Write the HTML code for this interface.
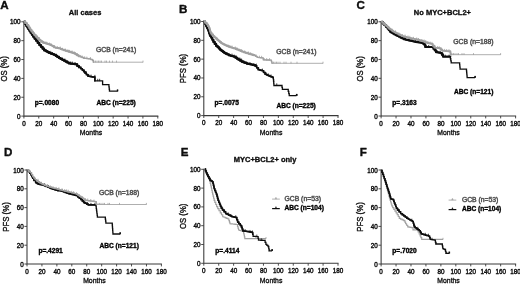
<!DOCTYPE html><html><head><meta charset="utf-8"><title>Figure</title><style>html,body{margin:0;padding:0;background:#fff}svg{display:block}text{font-family:"Liberation Sans", sans-serif;stroke-linejoin:round}</style></head><body>
<svg width="520" height="284" viewBox="0 0 520 284">
<defs><filter id="soft" x="0" y="0" width="520" height="284" filterUnits="userSpaceOnUse"><feGaussianBlur stdDeviation="0.38"/></filter></defs>
<rect width="520" height="284" fill="#fff"/>
<g filter="url(#soft)">
<g id="pA"><text x="0.2" y="9.0" font-size="11.6" font-weight="bold" fill="#0a0a0a" stroke="#0a0a0a" stroke-width="0.35">A</text>
<text x="85.1" y="14.8" font-size="7.5" font-weight="bold" fill="#0a0a0a" stroke="#0a0a0a" stroke-width="0.3" text-anchor="middle">All cases</text>
<path d="M23.90 21.30V116.10H158.30" fill="none" stroke="#383838" stroke-width="1.05"/>
<text transform="translate(20.60 118.60) scale(0.9 1)" font-size="7" fill="#0e0e0e" stroke="#0e0e0e" stroke-width="0.42" text-anchor="end">0</text>
<text transform="translate(20.60 99.74) scale(0.9 1)" font-size="7" fill="#0e0e0e" stroke="#0e0e0e" stroke-width="0.42" text-anchor="end">20</text>
<text transform="translate(20.60 80.88) scale(0.9 1)" font-size="7" fill="#0e0e0e" stroke="#0e0e0e" stroke-width="0.42" text-anchor="end">40</text>
<text transform="translate(20.60 62.02) scale(0.9 1)" font-size="7" fill="#0e0e0e" stroke="#0e0e0e" stroke-width="0.42" text-anchor="end">60</text>
<text transform="translate(20.60 43.16) scale(0.9 1)" font-size="7" fill="#0e0e0e" stroke="#0e0e0e" stroke-width="0.42" text-anchor="end">80</text>
<text transform="translate(20.60 24.30) scale(0.9 1)" font-size="7" fill="#0e0e0e" stroke="#0e0e0e" stroke-width="0.42" text-anchor="end">100</text>
<text transform="translate(23.90 125.65) scale(0.9 1)" font-size="7" fill="#0e0e0e" stroke="#0e0e0e" stroke-width="0.42" text-anchor="middle">0</text>
<text transform="translate(38.78 125.65) scale(0.9 1)" font-size="7" fill="#0e0e0e" stroke="#0e0e0e" stroke-width="0.42" text-anchor="middle">20</text>
<text transform="translate(53.66 125.65) scale(0.9 1)" font-size="7" fill="#0e0e0e" stroke="#0e0e0e" stroke-width="0.42" text-anchor="middle">40</text>
<text transform="translate(68.53 125.65) scale(0.9 1)" font-size="7" fill="#0e0e0e" stroke="#0e0e0e" stroke-width="0.42" text-anchor="middle">60</text>
<text transform="translate(83.41 125.65) scale(0.9 1)" font-size="7" fill="#0e0e0e" stroke="#0e0e0e" stroke-width="0.42" text-anchor="middle">80</text>
<text transform="translate(98.29 125.65) scale(0.9 1)" font-size="7" fill="#0e0e0e" stroke="#0e0e0e" stroke-width="0.42" text-anchor="middle">100</text>
<text transform="translate(113.17 125.65) scale(0.9 1)" font-size="7" fill="#0e0e0e" stroke="#0e0e0e" stroke-width="0.42" text-anchor="middle">120</text>
<text transform="translate(128.04 125.65) scale(0.9 1)" font-size="7" fill="#0e0e0e" stroke="#0e0e0e" stroke-width="0.42" text-anchor="middle">140</text>
<text transform="translate(142.92 125.65) scale(0.9 1)" font-size="7" fill="#0e0e0e" stroke="#0e0e0e" stroke-width="0.42" text-anchor="middle">160</text>
<text transform="translate(157.80 125.65) scale(0.9 1)" font-size="7" fill="#0e0e0e" stroke="#0e0e0e" stroke-width="0.42" text-anchor="middle">180</text>
<path d="M21.30 116.10H23.90M21.30 97.24H23.90M21.30 78.38H23.90M21.30 59.52H23.90M21.30 40.66H23.90M21.30 21.80H23.90M23.90 116.10V118.50M38.78 116.10V118.50M53.66 116.10V118.50M68.53 116.10V118.50M83.41 116.10V118.50M98.29 116.10V118.50M113.17 116.10V118.50M128.04 116.10V118.50M142.92 116.10V118.50M157.80 116.10V118.50" fill="none" stroke="#383838" stroke-width="0.9"/>
<text transform="translate(91.05 135.35) scale(0.87 1)" font-size="7.9" fill="#0e0e0e" stroke="#0e0e0e" stroke-width="0.36" text-anchor="middle">Months</text>
<text transform="translate(7.20 68.95) rotate(-90) scale(0.92 1)" font-size="8.4" fill="#0e0e0e" stroke="#0e0e0e" stroke-width="0.36" text-anchor="middle">OS (%)</text>
<path d="M24.40 21.60 L25.02 21.60 L25.02 23.75 L26.27 23.75 L26.27 25.90 L26.90 25.90 L27.40 25.90 L27.40 27.53 L28.40 27.53 L28.40 29.17 L29.40 29.17 L29.40 30.80 L29.90 30.80 L30.55 30.80 L30.55 32.77 L31.85 32.77 L31.85 34.73 L33.15 34.73 L33.15 36.70 L33.80 36.70 L34.55 36.70 L34.55 38.70 L36.05 38.70 L36.05 40.70 L36.80 40.70 L37.65 40.70 L37.65 42.90 L39.35 42.90 L39.35 45.10 L40.20 45.10 L40.98 45.10 L40.98 46.87 L42.55 46.87 L42.55 48.63 L44.12 48.63 L44.12 50.40 L44.90 50.40 L45.73 50.40 L45.73 51.27 L47.40 51.27 L47.40 52.13 L49.07 52.13 L49.07 53.00 L49.90 53.00 L50.72 53.00 L50.72 53.60 L52.35 53.60 L52.35 54.20 L53.98 54.20 L53.98 54.80 L54.80 54.80 L55.62 54.80 L55.62 55.87 L57.25 55.87 L57.25 56.93 L58.88 56.93 L58.88 58.00 L59.70 58.00 L60.53 58.00 L60.53 58.90 L62.20 58.90 L62.20 59.80 L63.87 59.80 L63.87 60.70 L64.70 60.70 L65.52 60.70 L65.52 61.60 L67.15 61.60 L67.15 62.50 L68.78 62.50 L68.78 63.40 L69.60 63.40 L70.29 63.40 L70.29 63.58 L71.67 63.58 L71.67 63.76 L73.05 63.76 L73.05 63.94 L74.43 63.94 L74.43 64.12 L75.81 64.12 L75.81 64.30 L76.50 64.30 L77.25 64.30 L77.25 66.00 L78.00 66.00 L78.92 66.00 L78.92 67.35 L80.78 67.35 L80.78 68.70 L81.70 68.70 L82.35 68.70 L82.35 70.17 L83.65 70.17 L83.65 71.63 L84.95 71.63 L84.95 73.10 L85.60 73.10 L86.38 73.10 L86.38 74.65 L87.92 74.65 L87.92 76.20 L88.70 76.20 L89.47 76.20 L89.47 76.47 L91.00 76.47 L91.00 76.73 L92.53 76.73 L92.53 77.00 L93.30 77.00 L94.90 77.00 L94.90 80.90 L102.60 80.90 L102.60 84.70 L108.80 84.70 L108.93 84.70 L108.93 86.87 L109.20 86.87 L109.20 89.03 L109.47 89.03 L109.47 91.20 L109.60 91.20 L117.40 91.20" fill="none" stroke="#101010" stroke-width="1.30" stroke-linejoin="miter"/>
<path d="M24.40 21.60 L25.02 21.60 L25.02 23.75 L26.27 23.75 L26.27 25.90 L26.90 25.90 L27.40 25.90 L27.40 27.53 L28.40 27.53 L28.40 29.17 L29.40 29.17 L29.40 30.80 L29.90 30.80 L30.55 30.80 L30.55 32.77 L31.85 32.77 L31.85 34.73 L33.15 34.73 L33.15 36.70 L33.80 36.70 L34.55 36.70 L34.55 38.70 L36.05 38.70 L36.05 40.70 L36.80 40.70 L37.65 40.70 L37.65 42.90 L39.35 42.90 L39.35 45.10 L40.20 45.10 L40.98 45.10 L40.98 46.87 L42.55 46.87 L42.55 48.63 L44.12 48.63 L44.12 50.40 L44.90 50.40 L45.73 50.40 L45.73 51.27 L47.40 51.27 L47.40 52.13 L49.07 52.13 L49.07 53.00 L49.90 53.00 L50.72 53.00 L50.72 53.60 L52.35 53.60 L52.35 54.20 L53.98 54.20 L53.98 54.80 L54.80 54.80 L55.62 54.80 L55.62 55.87 L57.25 55.87 L57.25 56.93 L58.88 56.93 L58.88 58.00 L59.70 58.00 L60.53 58.00 L60.53 58.90 L62.20 58.90 L62.20 59.80 L63.87 59.80 L63.87 60.70 L64.70 60.70 L65.52 60.70 L65.52 61.60 L67.15 61.60 L67.15 62.50 L68.78 62.50 L68.78 63.40 L69.60 63.40 L70.29 63.40 L70.29 63.58 L71.67 63.58 L71.67 63.76 L73.05 63.76 L73.05 63.94 L74.43 63.94 L74.43 64.12 L75.81 64.12 L75.81 64.30 L76.50 64.30 L77.25 64.30 L77.25 66.00 L78.00 66.00 L78.92 66.00 L78.92 67.35 L80.78 67.35 L80.78 68.70 L81.70 68.70 L82.35 68.70 L82.35 70.17 L83.65 70.17 L83.65 71.63 L84.95 71.63 L84.95 73.10 L85.60 73.10 L86.38 73.10 L86.38 74.65 L87.92 74.65 L87.92 76.20 L88.70 76.20 L89.47 76.20 L89.47 76.47 L91.00 76.47 L91.00 76.73 L92.53 76.73 L92.53 77.00 L93.30 77.00 L94.90 77.00 L94.90 80.90" fill="none" stroke="#101010" stroke-width="1.60" stroke-linejoin="round" stroke-linecap="round"/>
<path d="M24.40 21.60 L25.02 21.60 L25.02 23.75 L26.27 23.75 L26.27 25.90 L26.90 25.90 L27.40 25.90 L27.40 27.53 L28.40 27.53 L28.40 29.17 L29.40 29.17 L29.40 30.80 L29.90 30.80 L30.55 30.80 L30.55 32.77 L31.85 32.77 L31.85 34.73 L33.15 34.73 L33.15 36.70 L33.80 36.70 L34.55 36.70 L34.55 38.70 L36.05 38.70 L36.05 40.70 L36.80 40.70 L37.65 40.70 L37.65 42.90 L39.35 42.90 L39.35 45.10 L40.20 45.10 L40.98 45.10 L40.98 46.87 L42.55 46.87 L42.55 48.63 L44.12 48.63 L44.12 50.40 L44.90 50.40 L45.73 50.40 L45.73 51.27 L47.40 51.27 L47.40 52.13 L49.07 52.13 L49.07 53.00 L49.90 53.00 L50.72 53.00 L50.72 53.60 L52.35 53.60 L52.35 54.20 L53.98 54.20 L53.98 54.80 L54.80 54.80 L55.62 54.80 L55.62 55.87 L57.25 55.87 L57.25 56.93 L58.88 56.93 L58.88 58.00 L59.70 58.00 L60.53 58.00 L60.53 58.90 L62.20 58.90 L62.20 59.80 L63.87 59.80 L63.87 60.70 L64.70 60.70 L65.52 60.70 L65.52 61.60 L67.15 61.60 L67.15 62.50 L68.78 62.50 L68.78 63.40 L69.60 63.40 L70.29 63.40 L70.29 63.58 L71.67 63.58 L71.67 63.76 L73.05 63.76 L73.05 63.94 L74.43 63.94 L74.43 64.12 L75.81 64.12 L75.81 64.30 L76.50 64.30 L77.25 64.30 L77.25 66.00 L78.00 66.00 L78.92 66.00 L78.92 67.35" fill="none" stroke="#101010" stroke-width="2.20" stroke-linejoin="round" stroke-linecap="round"/>
<path d="M117.50 91.50V89.60M46.00 51.57V49.17M47.84 52.43V50.03M50.71 53.30V50.90M52.54 54.50V52.10M56.42 56.17V53.77M59.24 58.30V55.90M62.40 60.10V57.70M64.87 61.00V58.60M67.71 62.80V60.40M70.69 63.88V61.48M72.41 64.06V61.66M75.11 64.42V62.02M77.52 66.30V63.90M80.83 69.00V66.60M84.50 71.93V69.53M86.22 73.40V71.00M88.71 76.50V74.10M91.05 77.03V74.63M94.87 77.30V74.90M97.74 81.20V78.80M99.65 81.20V78.80" fill="none" stroke="#101010" stroke-width="0.8"/>
<rect x="116.80" y="89.50" width="1.5" height="1.9" fill="#101010"/>
<path d="M24.40 21.40 L25.27 21.40 L25.27 23.15 L27.02 23.15 L27.02 24.90 L27.90 24.90 L28.38 24.90 L28.38 26.53 L29.35 26.53 L29.35 28.17 L30.32 28.17 L30.32 29.80 L30.80 29.80 L31.47 29.80 L31.47 31.47 L32.80 31.47 L32.80 33.13 L34.13 33.13 L34.13 34.80 L34.80 34.80 L35.62 34.80 L35.62 36.43 L37.25 36.43 L37.25 38.07 L38.88 38.07 L38.88 39.70 L39.70 39.70 L40.37 39.70 L40.37 40.70 L41.70 40.70 L41.70 41.70 L43.03 41.70 L43.03 42.70 L43.70 42.70 L44.44 42.70 L44.44 43.12 L45.91 43.12 L45.91 43.55 L47.39 43.55 L47.39 43.98 L48.86 43.98 L48.86 44.40 L49.60 44.40 L50.25 44.40 L50.25 45.00 L51.55 45.00 L51.55 45.60 L52.85 45.60 L52.85 46.20 L53.50 46.20 L54.15 46.20 L54.15 47.40 L54.80 47.40 L55.62 47.40 L55.62 47.73 L57.25 47.73 L57.25 48.07 L58.88 48.07 L58.88 48.40 L59.70 48.40 L60.53 48.40 L60.53 49.03 L62.20 49.03 L62.20 49.67 L63.87 49.67 L63.87 50.30 L64.70 50.30 L65.52 50.30 L65.52 50.80 L67.15 50.80 L67.15 51.30 L68.78 51.30 L68.78 51.80 L69.60 51.80 L70.42 51.80 L70.42 52.30 L72.05 52.30 L72.05 52.80 L73.68 52.80 L73.68 53.30 L74.50 53.30 L75.32 53.30 L75.32 54.27 L76.95 54.27 L76.95 55.23 L78.58 55.23 L78.58 56.20 L79.40 56.20 L80.23 56.20 L80.23 56.87 L81.90 56.87 L81.90 57.53 L83.57 57.53 L83.57 58.20 L84.40 58.20 L85.10 58.20 L85.10 58.38 L86.50 58.38 L86.50 58.55 L87.90 58.55 L87.90 58.73 L89.30 58.73 L89.30 58.90 L90.00 58.90 L90.83 58.90 L90.83 59.55 L92.47 59.55 L92.47 60.20 L93.30 60.20 L93.30 62.20 L143.00 62.20" fill="none" stroke="#a0a0a0" stroke-width="0.85" stroke-linejoin="miter"/>
<path d="M24.40 21.40 L25.27 21.40 L25.27 23.15 L27.02 23.15 L27.02 24.90 L27.90 24.90 L28.38 24.90 L28.38 26.53 L29.35 26.53 L29.35 28.17 L30.32 28.17 L30.32 29.80 L30.80 29.80 L31.47 29.80 L31.47 31.47 L32.80 31.47 L32.80 33.13 L34.13 33.13 L34.13 34.80 L34.80 34.80 L35.62 34.80 L35.62 36.43 L37.25 36.43 L37.25 38.07 L38.88 38.07 L38.88 39.70 L39.70 39.70 L40.37 39.70 L40.37 40.70 L41.70 40.70 L41.70 41.70 L43.03 41.70 L43.03 42.70 L43.70 42.70 L44.44 42.70 L44.44 43.12 L45.91 43.12 L45.91 43.55 L47.39 43.55 L47.39 43.98 L48.86 43.98 L48.86 44.40 L49.60 44.40 L50.25 44.40 L50.25 45.00 L51.55 45.00 L51.55 45.60 L52.85 45.60 L52.85 46.20 L53.50 46.20 L54.15 46.20 L54.15 47.40 L54.80 47.40 L55.62 47.40 L55.62 47.73 L57.25 47.73 L57.25 48.07 L58.88 48.07 L58.88 48.40 L59.70 48.40 L60.53 48.40 L60.53 49.03 L62.20 49.03 L62.20 49.67 L63.87 49.67 L63.87 50.30 L64.70 50.30 L65.52 50.30 L65.52 50.80 L67.15 50.80 L67.15 51.30 L68.78 51.30 L68.78 51.80 L69.60 51.80 L70.42 51.80 L70.42 52.30 L72.05 52.30 L72.05 52.80 L73.68 52.80 L73.68 53.30 L74.50 53.30 L75.32 53.30 L75.32 54.27 L76.95 54.27 L76.95 55.23 L78.58 55.23 L78.58 56.20 L79.40 56.20 L80.23 56.20 L80.23 56.87 L81.90 56.87 L81.90 57.53 L83.57 57.53 L83.57 58.20 L84.40 58.20 L85.10 58.20 L85.10 58.38 L86.50 58.38 L86.50 58.55 L87.90 58.55 L87.90 58.73 L89.30 58.73 L89.30 58.90 L90.00 58.90 L90.83 58.90 L90.83 59.55 L92.47 59.55 L92.47 60.20 L93.30 60.20 L93.30 62.20" fill="none" stroke="#a0a0a0" stroke-width="1.40" stroke-linejoin="round" stroke-linecap="round"/>
<path d="M24.40 21.40 L25.27 21.40 L25.27 23.15 L27.02 23.15 L27.02 24.90 L27.90 24.90 L28.38 24.90 L28.38 26.53 L29.35 26.53 L29.35 28.17 L30.32 28.17 L30.32 29.80 L30.80 29.80 L31.47 29.80 L31.47 31.47 L32.80 31.47 L32.80 33.13 L34.13 33.13 L34.13 34.80 L34.80 34.80 L35.62 34.80 L35.62 36.43 L37.25 36.43 L37.25 38.07 L38.88 38.07 L38.88 39.70 L39.70 39.70 L40.37 39.70 L40.37 40.70 L41.70 40.70 L41.70 41.70 L43.03 41.70 L43.03 42.70 L43.70 42.70 L44.44 42.70 L44.44 43.12 L45.91 43.12 L45.91 43.55 L47.39 43.55 L47.39 43.98 L48.86 43.98 L48.86 44.40 L49.60 44.40 L50.25 44.40 L50.25 45.00 L51.55 45.00 L51.55 45.60 L52.85 45.60 L52.85 46.20 L53.50 46.20 L54.15 46.20 L54.15 47.40 L54.80 47.40 L55.62 47.40 L55.62 47.73 L57.25 47.73 L57.25 48.07 L58.88 48.07 L58.88 48.40 L59.70 48.40 L60.53 48.40 L60.53 49.03 L62.20 49.03 L62.20 49.67 L63.87 49.67 L63.87 50.30 L64.70 50.30 L65.52 50.30 L65.52 50.80 L67.15 50.80 L67.15 51.30 L68.78 51.30 L68.78 51.80 L69.60 51.80 L70.42 51.80 L70.42 52.30 L72.05 52.30 L72.05 52.80 L73.68 52.80 L73.68 53.30 L74.50 53.30 L75.32 53.30 L75.32 54.27 L76.95 54.27 L76.95 55.23 L78.58 55.23 L78.58 56.20 L79.40 56.20" fill="none" stroke="#a0a0a0" stroke-width="1.90" stroke-linejoin="round" stroke-linecap="round"/>
<path d="M94.00 62.50V60.60M95.50 62.50V60.60M97.00 62.50V60.60M98.50 62.50V60.60M100.00 62.50V60.60M101.50 62.50V60.60M105.00 62.50V60.60M106.50 62.50V60.60M109.50 62.50V60.60M112.50 62.50V60.60M116.50 62.50V60.60M143.00 62.50V60.60M45.00 43.42V41.23M46.71 43.85V41.65M49.37 44.70V42.50M51.07 45.30V43.10M54.68 47.70V45.50M57.29 48.37V46.17M60.23 48.70V46.50M62.52 49.97V47.77M65.16 50.60V48.40M67.92 51.60V49.40M69.52 52.10V49.90M72.03 52.60V50.40M74.27 53.60V51.40M77.34 55.53V53.33M80.75 57.17V54.97M82.35 57.83V55.63M84.66 58.50V56.30M86.83 58.85V56.65M90.38 59.20V57.00" fill="none" stroke="#a0a0a0" stroke-width="0.8"/>
<text x="96.00" y="52.20" font-size="6.8" fill="#565656" stroke="#565656" stroke-width="0.5">GCB (n=241)</text>
<text x="96.40" y="105.40" font-size="6.6" font-weight="bold" fill="#050505" stroke="#050505" stroke-width="0.36">ABC (n=225)</text>
<text x="34.70" y="104.90" font-size="6.6" font-weight="bold" fill="#050505" stroke="#050505" stroke-width="0.36">p=.0080</text></g>
<g id="pB"><text x="179.0" y="12.9" font-size="11.6" font-weight="bold" fill="#0a0a0a" stroke="#0a0a0a" stroke-width="0.35">B</text>
<path d="M203.80 21.00V115.60H338.50" fill="none" stroke="#383838" stroke-width="1.05"/>
<text transform="translate(200.50 118.10) scale(0.9 1)" font-size="7" fill="#0e0e0e" stroke="#0e0e0e" stroke-width="0.42" text-anchor="end">0</text>
<text transform="translate(200.50 99.28) scale(0.9 1)" font-size="7" fill="#0e0e0e" stroke="#0e0e0e" stroke-width="0.42" text-anchor="end">20</text>
<text transform="translate(200.50 80.46) scale(0.9 1)" font-size="7" fill="#0e0e0e" stroke="#0e0e0e" stroke-width="0.42" text-anchor="end">40</text>
<text transform="translate(200.50 61.64) scale(0.9 1)" font-size="7" fill="#0e0e0e" stroke="#0e0e0e" stroke-width="0.42" text-anchor="end">60</text>
<text transform="translate(200.50 42.82) scale(0.9 1)" font-size="7" fill="#0e0e0e" stroke="#0e0e0e" stroke-width="0.42" text-anchor="end">80</text>
<text transform="translate(200.50 24.00) scale(0.9 1)" font-size="7" fill="#0e0e0e" stroke="#0e0e0e" stroke-width="0.42" text-anchor="end">100</text>
<text transform="translate(203.80 125.15) scale(0.9 1)" font-size="7" fill="#0e0e0e" stroke="#0e0e0e" stroke-width="0.42" text-anchor="middle">0</text>
<text transform="translate(218.71 125.15) scale(0.9 1)" font-size="7" fill="#0e0e0e" stroke="#0e0e0e" stroke-width="0.42" text-anchor="middle">20</text>
<text transform="translate(233.62 125.15) scale(0.9 1)" font-size="7" fill="#0e0e0e" stroke="#0e0e0e" stroke-width="0.42" text-anchor="middle">40</text>
<text transform="translate(248.53 125.15) scale(0.9 1)" font-size="7" fill="#0e0e0e" stroke="#0e0e0e" stroke-width="0.42" text-anchor="middle">60</text>
<text transform="translate(263.44 125.15) scale(0.9 1)" font-size="7" fill="#0e0e0e" stroke="#0e0e0e" stroke-width="0.42" text-anchor="middle">80</text>
<text transform="translate(278.36 125.15) scale(0.9 1)" font-size="7" fill="#0e0e0e" stroke="#0e0e0e" stroke-width="0.42" text-anchor="middle">100</text>
<text transform="translate(293.27 125.15) scale(0.9 1)" font-size="7" fill="#0e0e0e" stroke="#0e0e0e" stroke-width="0.42" text-anchor="middle">120</text>
<text transform="translate(308.18 125.15) scale(0.9 1)" font-size="7" fill="#0e0e0e" stroke="#0e0e0e" stroke-width="0.42" text-anchor="middle">140</text>
<text transform="translate(323.09 125.15) scale(0.9 1)" font-size="7" fill="#0e0e0e" stroke="#0e0e0e" stroke-width="0.42" text-anchor="middle">160</text>
<text transform="translate(338.00 125.15) scale(0.9 1)" font-size="7" fill="#0e0e0e" stroke="#0e0e0e" stroke-width="0.42" text-anchor="middle">180</text>
<path d="M201.20 115.60H203.80M201.20 96.78H203.80M201.20 77.96H203.80M201.20 59.14H203.80M201.20 40.32H203.80M201.20 21.50H203.80M203.80 115.60V118.00M218.71 115.60V118.00M233.62 115.60V118.00M248.53 115.60V118.00M263.44 115.60V118.00M278.36 115.60V118.00M293.27 115.60V118.00M308.18 115.60V118.00M323.09 115.60V118.00M338.00 115.60V118.00" fill="none" stroke="#383838" stroke-width="0.9"/>
<text transform="translate(271.10 134.85) scale(0.87 1)" font-size="7.9" fill="#0e0e0e" stroke="#0e0e0e" stroke-width="0.36" text-anchor="middle">Months</text>
<text transform="translate(186.10 68.55) rotate(-90) scale(0.92 1)" font-size="8.5" fill="#0e0e0e" stroke="#0e0e0e" stroke-width="0.36" text-anchor="middle">PFS (%)</text>
<path d="M204.40 21.20 L204.73 21.20 L204.73 22.77 L205.40 22.77 L205.40 24.33 L206.07 24.33 L206.07 25.90 L206.40 25.90 L206.90 25.90 L206.90 27.85 L207.90 27.85 L207.90 29.80 L208.40 29.80 L208.65 29.80 L208.65 31.47 L209.15 31.47 L209.15 33.13 L209.65 33.13 L209.65 34.80 L209.90 34.80 L210.38 34.80 L210.38 36.25 L211.33 36.25 L211.33 37.70 L211.80 37.70 L212.33 37.70 L212.33 39.80 L213.38 39.80 L213.38 41.90 L213.90 41.90 L214.65 41.90 L214.65 43.90 L216.15 43.90 L216.15 45.90 L216.90 45.90 L217.55 45.90 L217.55 47.20 L218.85 47.20 L218.85 48.50 L220.15 48.50 L220.15 49.80 L220.80 49.80 L221.47 49.80 L221.47 50.80 L222.80 50.80 L222.80 51.80 L224.13 51.80 L224.13 52.80 L224.80 52.80 L225.62 52.80 L225.62 53.63 L227.25 53.63 L227.25 54.47 L228.88 54.47 L228.88 55.30 L229.70 55.30 L230.53 55.30 L230.53 55.77 L232.20 55.77 L232.20 56.23 L233.87 56.23 L233.87 56.70 L234.70 56.70 L235.42 56.70 L235.42 57.70 L236.88 57.70 L236.88 58.70 L237.60 58.70 L238.42 58.70 L238.42 59.70 L240.05 59.70 L240.05 60.70 L241.68 60.70 L241.68 61.70 L242.50 61.70 L243.33 61.70 L243.33 62.33 L245.00 62.33 L245.00 62.97 L246.67 62.97 L246.67 63.60 L247.50 63.60 L248.19 63.60 L248.19 63.90 L249.57 63.90 L249.57 64.20 L250.95 64.20 L250.95 64.50 L252.33 64.50 L252.33 64.80 L253.71 64.80 L253.71 65.10 L254.40 65.10 L255.15 65.10 L255.15 65.80 L255.90 65.80 L256.65 65.80 L256.65 67.75 L258.15 67.75 L258.15 69.70 L258.90 69.70 L259.55 69.70 L259.55 70.03 L260.85 70.03 L260.85 70.37 L262.15 70.37 L262.15 70.70 L262.80 70.70 L263.55 70.70 L263.55 72.45 L265.05 72.45 L265.05 74.20 L265.80 74.20 L266.45 74.20 L266.45 74.83 L267.75 74.83 L267.75 75.47 L269.05 75.47 L269.05 76.10 L269.70 76.10 L270.45 76.10 L270.45 76.60 L271.95 76.60 L271.95 77.10 L272.70 77.10 L273.00 77.10 L273.00 77.80 L273.30 77.80 L273.39 77.80 L273.39 79.72 L273.56 79.72 L273.56 81.65 L273.74 81.65 L273.74 83.58 L273.91 83.58 L273.91 85.50 L274.00 85.50 L281.80 85.50 L282.00 85.50 L282.00 87.45 L282.40 87.45 L282.40 89.40 L282.60 89.40 L288.00 89.40 L288.25 89.40 L288.25 91.47 L288.75 91.47 L288.75 93.53 L289.25 93.53 L289.25 95.60 L289.50 95.60 L296.50 95.60" fill="none" stroke="#101010" stroke-width="1.30" stroke-linejoin="miter"/>
<path d="M204.40 21.20 L204.73 21.20 L204.73 22.77 L205.40 22.77 L205.40 24.33 L206.07 24.33 L206.07 25.90 L206.40 25.90 L206.90 25.90 L206.90 27.85 L207.90 27.85 L207.90 29.80 L208.40 29.80 L208.65 29.80 L208.65 31.47 L209.15 31.47 L209.15 33.13 L209.65 33.13 L209.65 34.80 L209.90 34.80 L210.38 34.80 L210.38 36.25 L211.33 36.25 L211.33 37.70 L211.80 37.70 L212.33 37.70 L212.33 39.80 L213.38 39.80 L213.38 41.90 L213.90 41.90 L214.65 41.90 L214.65 43.90 L216.15 43.90 L216.15 45.90 L216.90 45.90 L217.55 45.90 L217.55 47.20 L218.85 47.20 L218.85 48.50 L220.15 48.50 L220.15 49.80 L220.80 49.80 L221.47 49.80 L221.47 50.80 L222.80 50.80 L222.80 51.80 L224.13 51.80 L224.13 52.80 L224.80 52.80 L225.62 52.80 L225.62 53.63 L227.25 53.63 L227.25 54.47 L228.88 54.47 L228.88 55.30 L229.70 55.30 L230.53 55.30 L230.53 55.77 L232.20 55.77 L232.20 56.23 L233.87 56.23 L233.87 56.70 L234.70 56.70 L235.42 56.70 L235.42 57.70 L236.88 57.70 L236.88 58.70 L237.60 58.70 L238.42 58.70 L238.42 59.70 L240.05 59.70 L240.05 60.70 L241.68 60.70 L241.68 61.70 L242.50 61.70 L243.33 61.70 L243.33 62.33 L245.00 62.33 L245.00 62.97 L246.67 62.97 L246.67 63.60 L247.50 63.60 L248.19 63.60 L248.19 63.90 L249.57 63.90 L249.57 64.20 L250.95 64.20 L250.95 64.50 L252.33 64.50 L252.33 64.80 L253.71 64.80 L253.71 65.10 L254.40 65.10 L255.15 65.10 L255.15 65.80 L255.90 65.80 L256.65 65.80 L256.65 67.75 L258.15 67.75 L258.15 69.70 L258.90 69.70 L259.55 69.70 L259.55 70.03 L260.85 70.03 L260.85 70.37 L262.15 70.37 L262.15 70.70 L262.80 70.70 L263.55 70.70 L263.55 72.45 L265.05 72.45 L265.05 74.20 L265.80 74.20 L266.45 74.20 L266.45 74.83 L267.75 74.83 L267.75 75.47 L269.05 75.47 L269.05 76.10 L269.70 76.10 L270.45 76.10 L270.45 76.60 L271.95 76.60 L271.95 77.10 L272.70 77.10 L273.00 77.10 L273.00 77.80 L273.30 77.80" fill="none" stroke="#101010" stroke-width="1.60" stroke-linejoin="round" stroke-linecap="round"/>
<path d="M204.40 21.20 L204.73 21.20 L204.73 22.77 L205.40 22.77 L205.40 24.33 L206.07 24.33 L206.07 25.90 L206.40 25.90 L206.90 25.90 L206.90 27.85 L207.90 27.85 L207.90 29.80 L208.40 29.80 L208.65 29.80 L208.65 31.47 L209.15 31.47 L209.15 33.13 L209.65 33.13 L209.65 34.80 L209.90 34.80 L210.38 34.80 L210.38 36.25 L211.33 36.25 L211.33 37.70 L211.80 37.70 L212.33 37.70 L212.33 39.80 L213.38 39.80 L213.38 41.90 L213.90 41.90 L214.65 41.90 L214.65 43.90 L216.15 43.90 L216.15 45.90 L216.90 45.90 L217.55 45.90 L217.55 47.20 L218.85 47.20 L218.85 48.50 L220.15 48.50 L220.15 49.80 L220.80 49.80 L221.47 49.80 L221.47 50.80 L222.80 50.80 L222.80 51.80 L224.13 51.80 L224.13 52.80 L224.80 52.80 L225.62 52.80 L225.62 53.63 L227.25 53.63 L227.25 54.47 L228.88 54.47 L228.88 55.30 L229.70 55.30 L230.53 55.30 L230.53 55.77 L232.20 55.77 L232.20 56.23 L233.87 56.23 L233.87 56.70 L234.70 56.70 L235.42 56.70 L235.42 57.70 L236.88 57.70 L236.88 58.70 L237.60 58.70 L238.42 58.70 L238.42 59.70 L240.05 59.70 L240.05 60.70 L241.68 60.70 L241.68 61.70 L242.50 61.70 L243.33 61.70 L243.33 62.33 L245.00 62.33 L245.00 62.97 L246.67 62.97 L246.67 63.60 L247.50 63.60 L248.19 63.60 L248.19 63.90 L249.57 63.90 L249.57 64.20 L250.95 64.20 L250.95 64.50 L252.33 64.50 L252.33 64.80 L253.71 64.80 L253.71 65.10 L254.40 65.10 L255.15 65.10 L255.15 65.80 L255.90 65.80" fill="none" stroke="#101010" stroke-width="2.20" stroke-linejoin="round" stroke-linecap="round"/>
<path d="M297.00 95.90V94.00M232.00 56.07V53.67M234.11 57.00V54.60M236.29 58.00V55.60M239.83 60.00V57.60M241.57 61.00V58.60M243.76 62.63V60.23M246.68 63.90V61.50M249.96 64.50V62.10M253.82 65.40V63.00M256.38 66.10V63.70M258.80 70.00V67.60M262.35 71.00V68.60M265.96 74.50V72.10M268.18 75.77V73.37M271.02 76.90V74.50M273.67 81.95V79.55M276.75 85.80V83.40" fill="none" stroke="#101010" stroke-width="0.8"/>
<rect x="295.90" y="93.90" width="1.5" height="1.9" fill="#101010"/>
<path d="M204.40 21.00 L205.15 21.00 L205.15 22.70 L206.65 22.70 L206.65 24.40 L207.40 24.40 L207.90 24.40 L207.90 26.15 L208.90 26.15 L208.90 27.90 L209.40 27.90 L209.63 27.90 L209.63 29.53 L210.10 29.53 L210.10 31.17 L210.57 31.17 L210.57 32.80 L210.80 32.80 L211.55 32.80 L211.55 34.50 L213.05 34.50 L213.05 36.20 L213.80 36.20 L214.47 36.20 L214.47 37.37 L215.80 37.37 L215.80 38.53 L217.13 38.53 L217.13 39.70 L217.80 39.70 L218.45 39.70 L218.45 40.83 L219.75 40.83 L219.75 41.97 L221.05 41.97 L221.05 43.10 L221.70 43.10 L222.35 43.10 L222.35 43.77 L223.65 43.77 L223.65 44.43 L224.95 44.43 L224.95 45.10 L225.60 45.10 L226.28 45.10 L226.28 45.70 L227.65 45.70 L227.65 46.30 L229.02 46.30 L229.02 46.90 L229.70 46.90 L230.53 46.90 L230.53 47.40 L232.20 47.40 L232.20 47.90 L233.87 47.90 L233.87 48.40 L234.70 48.40 L235.52 48.40 L235.52 49.03 L237.15 49.03 L237.15 49.67 L238.78 49.67 L238.78 50.30 L239.60 50.30 L240.42 50.30 L240.42 50.97 L242.05 50.97 L242.05 51.63 L243.68 51.63 L243.68 52.30 L244.50 52.30 L245.32 52.30 L245.32 52.80 L246.95 52.80 L246.95 53.30 L248.58 53.30 L248.58 53.80 L249.40 53.80 L250.09 53.80 L250.09 54.20 L251.46 54.20 L251.46 54.60 L252.84 54.60 L252.84 55.00 L254.21 55.00 L254.21 55.40 L254.90 55.40 L255.65 55.40 L255.65 56.40 L257.15 56.40 L257.15 57.40 L257.90 57.40 L258.72 57.40 L258.72 57.57 L260.35 57.57 L260.35 57.73 L261.98 57.73 L261.98 57.90 L262.80 57.90 L263.30 57.90 L263.30 59.90 L263.80 59.90 L264.54 59.90 L264.54 59.94 L266.02 59.94 L266.02 59.98 L267.50 59.98 L267.50 60.02 L268.98 60.02 L268.98 60.06 L270.46 60.06 L270.46 60.10 L271.20 60.10 L271.45 60.10 L271.45 61.70 L271.95 61.70 L271.95 63.30 L272.20 63.30 L323.00 63.30" fill="none" stroke="#a0a0a0" stroke-width="0.85" stroke-linejoin="miter"/>
<path d="M204.40 21.00 L205.15 21.00 L205.15 22.70 L206.65 22.70 L206.65 24.40 L207.40 24.40 L207.90 24.40 L207.90 26.15 L208.90 26.15 L208.90 27.90 L209.40 27.90 L209.63 27.90 L209.63 29.53 L210.10 29.53 L210.10 31.17 L210.57 31.17 L210.57 32.80 L210.80 32.80 L211.55 32.80 L211.55 34.50 L213.05 34.50 L213.05 36.20 L213.80 36.20 L214.47 36.20 L214.47 37.37 L215.80 37.37 L215.80 38.53 L217.13 38.53 L217.13 39.70 L217.80 39.70 L218.45 39.70 L218.45 40.83 L219.75 40.83 L219.75 41.97 L221.05 41.97 L221.05 43.10 L221.70 43.10 L222.35 43.10 L222.35 43.77 L223.65 43.77 L223.65 44.43 L224.95 44.43 L224.95 45.10 L225.60 45.10 L226.28 45.10 L226.28 45.70 L227.65 45.70 L227.65 46.30 L229.02 46.30 L229.02 46.90 L229.70 46.90 L230.53 46.90 L230.53 47.40 L232.20 47.40 L232.20 47.90 L233.87 47.90 L233.87 48.40 L234.70 48.40 L235.52 48.40 L235.52 49.03 L237.15 49.03 L237.15 49.67 L238.78 49.67 L238.78 50.30 L239.60 50.30 L240.42 50.30 L240.42 50.97 L242.05 50.97 L242.05 51.63 L243.68 51.63 L243.68 52.30 L244.50 52.30 L245.32 52.30 L245.32 52.80 L246.95 52.80 L246.95 53.30 L248.58 53.30 L248.58 53.80 L249.40 53.80 L250.09 53.80 L250.09 54.20 L251.46 54.20 L251.46 54.60 L252.84 54.60 L252.84 55.00 L254.21 55.00 L254.21 55.40 L254.90 55.40 L255.65 55.40 L255.65 56.40 L257.15 56.40 L257.15 57.40 L257.90 57.40 L258.72 57.40 L258.72 57.57 L260.35 57.57 L260.35 57.73 L261.98 57.73 L261.98 57.90 L262.80 57.90 L263.30 57.90 L263.30 59.90 L263.80 59.90 L264.54 59.90 L264.54 59.94 L266.02 59.94 L266.02 59.98 L267.50 59.98 L267.50 60.02 L268.98 60.02 L268.98 60.06 L270.46 60.06 L270.46 60.10 L271.20 60.10 L271.45 60.10 L271.45 61.70 L271.95 61.70 L271.95 63.30 L272.20 63.30" fill="none" stroke="#a0a0a0" stroke-width="1.35" stroke-linejoin="round" stroke-linecap="round"/>
<path d="M204.40 21.00 L205.15 21.00 L205.15 22.70 L206.65 22.70 L206.65 24.40 L207.40 24.40 L207.90 24.40 L207.90 26.15 L208.90 26.15 L208.90 27.90 L209.40 27.90 L209.63 27.90 L209.63 29.53 L210.10 29.53 L210.10 31.17 L210.57 31.17 L210.57 32.80 L210.80 32.80 L211.55 32.80 L211.55 34.50 L213.05 34.50 L213.05 36.20 L213.80 36.20 L214.47 36.20 L214.47 37.37 L215.80 37.37 L215.80 38.53 L217.13 38.53 L217.13 39.70 L217.80 39.70 L218.45 39.70 L218.45 40.83 L219.75 40.83 L219.75 41.97 L221.05 41.97 L221.05 43.10 L221.70 43.10 L222.35 43.10 L222.35 43.77 L223.65 43.77 L223.65 44.43 L224.95 44.43 L224.95 45.10 L225.60 45.10 L226.28 45.10 L226.28 45.70 L227.65 45.70 L227.65 46.30 L229.02 46.30 L229.02 46.90 L229.70 46.90 L230.53 46.90 L230.53 47.40 L232.20 47.40 L232.20 47.90 L233.87 47.90 L233.87 48.40 L234.70 48.40 L235.52 48.40 L235.52 49.03 L237.15 49.03 L237.15 49.67 L238.78 49.67 L238.78 50.30 L239.60 50.30 L240.42 50.30 L240.42 50.97 L242.05 50.97 L242.05 51.63 L243.68 51.63 L243.68 52.30 L244.50 52.30 L245.32 52.30 L245.32 52.80 L246.95 52.80 L246.95 53.30 L248.58 53.30 L248.58 53.80 L249.40 53.80 L250.09 53.80 L250.09 54.20 L251.46 54.20 L251.46 54.60 L252.84 54.60 L252.84 55.00 L254.21 55.00 L254.21 55.40 L254.90 55.40" fill="none" stroke="#a0a0a0" stroke-width="1.90" stroke-linejoin="round" stroke-linecap="round"/>
<path d="M273.50 63.60V61.70M275.00 63.60V61.70M276.50 63.60V61.70M278.00 63.60V61.70M280.00 63.60V61.70M284.00 63.60V61.70M286.00 63.60V61.70M291.00 63.60V61.70M297.00 63.60V61.70M323.00 63.60V61.70M228.00 46.60V44.40M229.96 47.20V45.00M231.98 47.70V45.50M235.27 48.70V46.50M236.89 49.33V47.13M238.92 50.60V48.40M241.63 51.27V49.07M244.68 52.60V50.40M248.26 53.60V51.40M250.64 54.50V52.30M252.89 55.30V53.10M256.18 56.70V54.50M259.53 57.87V55.67M261.60 58.03V55.83M264.23 60.20V58.00M266.69 60.28V58.08M269.55 60.36V58.16" fill="none" stroke="#a0a0a0" stroke-width="0.8"/>
<text x="276.20" y="54.00" font-size="6.8" fill="#565656" stroke="#565656" stroke-width="0.5">GCB (n=241)</text>
<text x="276.40" y="108.20" font-size="6.6" font-weight="bold" fill="#050505" stroke="#050505" stroke-width="0.36">ABC (n=225)</text>
<text x="214.50" y="104.90" font-size="6.6" font-weight="bold" fill="#050505" stroke="#050505" stroke-width="0.36">p=.0075</text></g>
<g id="pC"><text x="356.6" y="9.1" font-size="11.6" font-weight="bold" fill="#0a0a0a" stroke="#0a0a0a" stroke-width="0.35">C</text>
<text x="442.4" y="14.8" font-size="7.5" font-weight="bold" fill="#0a0a0a" stroke="#0a0a0a" stroke-width="0.3" text-anchor="middle">No MYC+BCL2+</text>
<path d="M381.10 21.30V116.00H516.10" fill="none" stroke="#383838" stroke-width="1.05"/>
<text transform="translate(377.80 118.50) scale(0.9 1)" font-size="7" fill="#0e0e0e" stroke="#0e0e0e" stroke-width="0.42" text-anchor="end">0</text>
<text transform="translate(377.80 99.66) scale(0.9 1)" font-size="7" fill="#0e0e0e" stroke="#0e0e0e" stroke-width="0.42" text-anchor="end">20</text>
<text transform="translate(377.80 80.82) scale(0.9 1)" font-size="7" fill="#0e0e0e" stroke="#0e0e0e" stroke-width="0.42" text-anchor="end">40</text>
<text transform="translate(377.80 61.98) scale(0.9 1)" font-size="7" fill="#0e0e0e" stroke="#0e0e0e" stroke-width="0.42" text-anchor="end">60</text>
<text transform="translate(377.80 43.14) scale(0.9 1)" font-size="7" fill="#0e0e0e" stroke="#0e0e0e" stroke-width="0.42" text-anchor="end">80</text>
<text transform="translate(377.80 24.30) scale(0.9 1)" font-size="7" fill="#0e0e0e" stroke="#0e0e0e" stroke-width="0.42" text-anchor="end">100</text>
<text transform="translate(381.10 125.55) scale(0.9 1)" font-size="7" fill="#0e0e0e" stroke="#0e0e0e" stroke-width="0.42" text-anchor="middle">0</text>
<text transform="translate(396.04 125.55) scale(0.9 1)" font-size="7" fill="#0e0e0e" stroke="#0e0e0e" stroke-width="0.42" text-anchor="middle">20</text>
<text transform="translate(410.99 125.55) scale(0.9 1)" font-size="7" fill="#0e0e0e" stroke="#0e0e0e" stroke-width="0.42" text-anchor="middle">40</text>
<text transform="translate(425.93 125.55) scale(0.9 1)" font-size="7" fill="#0e0e0e" stroke="#0e0e0e" stroke-width="0.42" text-anchor="middle">60</text>
<text transform="translate(440.88 125.55) scale(0.9 1)" font-size="7" fill="#0e0e0e" stroke="#0e0e0e" stroke-width="0.42" text-anchor="middle">80</text>
<text transform="translate(455.82 125.55) scale(0.9 1)" font-size="7" fill="#0e0e0e" stroke="#0e0e0e" stroke-width="0.42" text-anchor="middle">100</text>
<text transform="translate(470.77 125.55) scale(0.9 1)" font-size="7" fill="#0e0e0e" stroke="#0e0e0e" stroke-width="0.42" text-anchor="middle">120</text>
<text transform="translate(485.71 125.55) scale(0.9 1)" font-size="7" fill="#0e0e0e" stroke="#0e0e0e" stroke-width="0.42" text-anchor="middle">140</text>
<text transform="translate(500.66 125.55) scale(0.9 1)" font-size="7" fill="#0e0e0e" stroke="#0e0e0e" stroke-width="0.42" text-anchor="middle">160</text>
<text transform="translate(515.60 125.55) scale(0.9 1)" font-size="7" fill="#0e0e0e" stroke="#0e0e0e" stroke-width="0.42" text-anchor="middle">180</text>
<path d="M378.50 116.00H381.10M378.50 97.16H381.10M378.50 78.32H381.10M378.50 59.48H381.10M378.50 40.64H381.10M378.50 21.80H381.10M381.10 116.00V118.40M396.04 116.00V118.40M410.99 116.00V118.40M425.93 116.00V118.40M440.88 116.00V118.40M455.82 116.00V118.40M470.77 116.00V118.40M485.71 116.00V118.40M500.66 116.00V118.40M515.60 116.00V118.40" fill="none" stroke="#383838" stroke-width="0.9"/>
<text transform="translate(448.55 135.25) scale(0.87 1)" font-size="7.9" fill="#0e0e0e" stroke="#0e0e0e" stroke-width="0.36" text-anchor="middle">Months</text>
<text transform="translate(363.00 68.90) rotate(-90) scale(0.92 1)" font-size="8.4" fill="#0e0e0e" stroke="#0e0e0e" stroke-width="0.36" text-anchor="middle">OS (%)</text>
<path d="M381.80 21.80 L382.65 21.80 L382.65 23.50 L384.35 23.50 L384.35 25.20 L386.05 25.20 L386.05 26.90 L386.90 26.90 L387.55 26.90 L387.55 28.53 L388.85 28.53 L388.85 30.17 L390.15 30.17 L390.15 31.80 L390.80 31.80 L391.47 31.80 L391.47 32.63 L392.80 32.63 L392.80 33.47 L394.13 33.47 L394.13 34.30 L394.80 34.30 L395.62 34.30 L395.62 35.10 L397.25 35.10 L397.25 35.90 L398.88 35.90 L398.88 36.70 L399.70 36.70 L400.52 36.70 L400.52 37.53 L402.15 37.53 L402.15 38.37 L403.78 38.37 L403.78 39.20 L404.60 39.20 L405.34 39.20 L405.34 39.58 L406.81 39.58 L406.81 39.95 L408.29 39.95 L408.29 40.33 L409.76 40.33 L409.76 40.70 L410.50 40.70 L411.19 40.70 L411.19 40.98 L412.57 40.98 L412.57 41.26 L413.95 41.26 L413.95 41.54 L415.33 41.54 L415.33 41.82 L416.71 41.82 L416.71 42.10 L417.40 42.10 L418.23 42.10 L418.23 42.33 L419.90 42.33 L419.90 42.57 L421.57 42.57 L421.57 42.80 L422.40 42.80 L423.50 42.80 L423.50 44.30 L424.60 44.30 L425.20 44.30 L425.20 47.00 L425.80 47.00 L432.80 47.00 L433.45 47.00 L433.45 48.73 L434.75 48.73 L434.75 50.47 L436.05 50.47 L436.05 52.20 L436.70 52.20 L437.47 52.20 L437.47 52.47 L439.00 52.47 L439.00 52.73 L440.53 52.73 L440.53 53.00 L441.30 53.00 L441.88 53.00 L441.88 54.85 L443.03 54.85 L443.03 56.70 L443.60 56.70 L450.20 56.70 L450.40 56.70 L450.40 58.77 L450.80 58.77 L450.80 60.83 L451.20 60.83 L451.20 62.90 L451.40 62.90 L459.50 62.90 L459.62 62.90 L459.62 64.97 L459.85 64.97 L459.85 67.03 L460.08 67.03 L460.08 69.10 L460.20 69.10 L466.40 69.10 L466.48 69.10 L466.48 70.80 L466.64 70.80 L466.64 72.50 L466.80 72.50 L466.80 74.20 L466.96 74.20 L466.96 75.90 L467.12 75.90 L467.12 77.60 L467.20 77.60 L475.00 77.60" fill="none" stroke="#101010" stroke-width="1.30" stroke-linejoin="miter"/>
<path d="M381.80 21.80 L382.65 21.80 L382.65 23.50 L384.35 23.50 L384.35 25.20 L386.05 25.20 L386.05 26.90 L386.90 26.90 L387.55 26.90 L387.55 28.53 L388.85 28.53 L388.85 30.17 L390.15 30.17 L390.15 31.80 L390.80 31.80 L391.47 31.80 L391.47 32.63 L392.80 32.63 L392.80 33.47 L394.13 33.47 L394.13 34.30 L394.80 34.30 L395.62 34.30 L395.62 35.10 L397.25 35.10 L397.25 35.90 L398.88 35.90 L398.88 36.70 L399.70 36.70 L400.52 36.70 L400.52 37.53 L402.15 37.53 L402.15 38.37 L403.78 38.37 L403.78 39.20 L404.60 39.20 L405.34 39.20 L405.34 39.58 L406.81 39.58 L406.81 39.95 L408.29 39.95 L408.29 40.33 L409.76 40.33 L409.76 40.70 L410.50 40.70 L411.19 40.70 L411.19 40.98 L412.57 40.98 L412.57 41.26 L413.95 41.26 L413.95 41.54 L415.33 41.54 L415.33 41.82 L416.71 41.82 L416.71 42.10 L417.40 42.10 L418.23 42.10 L418.23 42.33 L419.90 42.33 L419.90 42.57 L421.57 42.57 L421.57 42.80 L422.40 42.80 L423.50 42.80 L423.50 44.30 L424.60 44.30 L425.20 44.30 L425.20 47.00 L425.80 47.00 L432.80 47.00 L433.45 47.00 L433.45 48.73 L434.75 48.73 L434.75 50.47 L436.05 50.47 L436.05 52.20 L436.70 52.20 L437.47 52.20 L437.47 52.47 L439.00 52.47 L439.00 52.73 L440.53 52.73 L440.53 53.00 L441.30 53.00 L441.88 53.00 L441.88 54.85 L443.03 54.85 L443.03 56.70 L443.60 56.70 L450.20 56.70" fill="none" stroke="#101010" stroke-width="2.20" stroke-linejoin="round" stroke-linecap="round"/>
<path d="M475.00 77.90V76.00M396.00 35.40V33.10M400.18 37.00V34.70M404.52 39.50V37.20M408.97 40.62V38.33M412.06 41.28V38.98M415.70 42.12V39.82M417.90 42.40V40.10M422.30 43.10V40.80M426.39 47.30V45.00M428.66 47.30V45.00M432.83 47.30V45.00M435.51 50.77V48.47M437.55 52.77V50.47M440.23 53.03V50.73M443.01 55.15V52.85M445.22 57.00V54.70M449.09 57.00V54.70" fill="none" stroke="#101010" stroke-width="0.8"/>
<rect x="474.40" y="75.90" width="1.5" height="1.9" fill="#101010"/>
<path d="M381.80 21.70 L382.48 21.70 L382.48 22.87 L383.85 22.87 L383.85 24.03 L385.22 24.03 L385.22 25.20 L385.90 25.20 L386.55 25.20 L386.55 26.37 L387.85 26.37 L387.85 27.53 L389.15 27.53 L389.15 28.70 L389.80 28.70 L390.47 28.70 L390.47 29.67 L391.80 29.67 L391.80 30.63 L393.13 30.63 L393.13 31.60 L393.80 31.60 L394.45 31.60 L394.45 32.27 L395.75 32.27 L395.75 32.93 L397.05 32.93 L397.05 33.60 L397.70 33.60 L398.53 33.60 L398.53 34.43 L400.20 34.43 L400.20 35.27 L401.87 35.27 L401.87 36.10 L402.70 36.10 L403.52 36.10 L403.52 36.57 L405.15 36.57 L405.15 37.03 L406.78 37.03 L406.78 37.50 L407.60 37.50 L408.42 37.50 L408.42 37.83 L410.05 37.83 L410.05 38.17 L411.68 38.17 L411.68 38.50 L412.50 38.50 L413.32 38.50 L413.32 38.83 L414.95 38.83 L414.95 39.17 L416.58 39.17 L416.58 39.50 L417.40 39.50 L418.23 39.50 L418.23 40.00 L419.90 40.00 L419.90 40.50 L421.57 40.50 L421.57 41.00 L422.40 41.00 L423.10 41.00 L423.10 41.50 L424.50 41.50 L424.50 42.00 L425.90 42.00 L425.90 42.50 L427.30 42.50 L427.30 43.00 L428.00 43.00 L428.67 43.00 L428.67 43.30 L430.00 43.30 L430.00 43.60 L431.33 43.60 L431.33 43.90 L432.00 43.90 L432.77 43.90 L432.77 45.75 L434.33 45.75 L434.33 47.60 L435.10 47.60 L435.88 47.60 L435.88 47.83 L437.45 47.83 L437.45 48.07 L439.02 48.07 L439.02 48.30 L439.80 48.30 L440.57 48.30 L440.57 49.55 L442.12 49.55 L442.12 50.80 L442.90 50.80 L443.63 50.80 L443.63 50.90 L445.09 50.90 L445.09 51.00 L446.55 51.00 L446.55 51.10 L448.01 51.10 L448.01 51.20 L449.47 51.20 L449.47 51.30 L450.20 51.30 L450.38 51.30 L450.38 53.00 L450.72 53.00 L450.72 54.70 L450.90 54.70 L500.60 54.70" fill="none" stroke="#a0a0a0" stroke-width="0.85" stroke-linejoin="miter"/>
<path d="M381.80 21.70 L382.48 21.70 L382.48 22.87 L383.85 22.87 L383.85 24.03 L385.22 24.03 L385.22 25.20 L385.90 25.20 L386.55 25.20 L386.55 26.37 L387.85 26.37 L387.85 27.53 L389.15 27.53 L389.15 28.70 L389.80 28.70 L390.47 28.70 L390.47 29.67 L391.80 29.67 L391.80 30.63 L393.13 30.63 L393.13 31.60 L393.80 31.60 L394.45 31.60 L394.45 32.27 L395.75 32.27 L395.75 32.93 L397.05 32.93 L397.05 33.60 L397.70 33.60 L398.53 33.60 L398.53 34.43 L400.20 34.43 L400.20 35.27 L401.87 35.27 L401.87 36.10 L402.70 36.10 L403.52 36.10 L403.52 36.57 L405.15 36.57 L405.15 37.03 L406.78 37.03 L406.78 37.50 L407.60 37.50 L408.42 37.50 L408.42 37.83 L410.05 37.83 L410.05 38.17 L411.68 38.17 L411.68 38.50 L412.50 38.50 L413.32 38.50 L413.32 38.83 L414.95 38.83 L414.95 39.17 L416.58 39.17 L416.58 39.50 L417.40 39.50 L418.23 39.50 L418.23 40.00 L419.90 40.00 L419.90 40.50 L421.57 40.50 L421.57 41.00 L422.40 41.00 L423.10 41.00 L423.10 41.50 L424.50 41.50 L424.50 42.00 L425.90 42.00 L425.90 42.50 L427.30 42.50 L427.30 43.00 L428.00 43.00 L428.67 43.00 L428.67 43.30 L430.00 43.30 L430.00 43.60 L431.33 43.60 L431.33 43.90 L432.00 43.90 L432.77 43.90 L432.77 45.75 L434.33 45.75 L434.33 47.60 L435.10 47.60 L435.88 47.60 L435.88 47.83 L437.45 47.83 L437.45 48.07 L439.02 48.07 L439.02 48.30 L439.80 48.30 L440.57 48.30 L440.57 49.55 L442.12 49.55 L442.12 50.80 L442.90 50.80 L443.63 50.80 L443.63 50.90 L445.09 50.90 L445.09 51.00 L446.55 51.00 L446.55 51.10 L448.01 51.10 L448.01 51.20 L449.47 51.20 L449.47 51.30 L450.20 51.30 L450.38 51.30 L450.38 53.00 L450.72 53.00 L450.72 54.70 L450.90 54.70" fill="none" stroke="#a0a0a0" stroke-width="1.90" stroke-linejoin="round" stroke-linecap="round"/>
<path d="M452.00 55.00V53.10M453.50 55.00V53.10M455.00 55.00V53.10M457.00 55.00V53.10M458.50 55.00V53.10M462.00 55.00V53.10M464.00 55.00V53.10M473.50 55.00V53.10M500.60 55.00V53.10M392.00 30.93V28.63M395.40 32.57V30.27M398.93 34.73V32.43M402.54 36.40V34.10M405.05 36.87V34.57M408.00 37.80V35.50M409.80 38.13V35.83M413.37 39.13V36.83M416.70 39.80V37.50M418.54 40.30V38.00M421.92 41.30V39.00M424.10 41.80V39.50M425.76 42.30V40.00M427.94 43.30V41.00M430.20 43.90V41.60M431.99 44.20V41.90M435.13 47.90V45.60M437.63 48.37V46.07M439.29 48.60V46.30M441.29 49.85V47.55M444.62 51.20V48.90M446.65 51.40V49.10M448.98 51.50V49.20" fill="none" stroke="#a0a0a0" stroke-width="0.8"/>
<text x="453.30" y="44.00" font-size="6.8" fill="#565656" stroke="#565656" stroke-width="0.5">GCB (n=188)</text>
<text x="454.00" y="93.60" font-size="6.6" font-weight="bold" fill="#050505" stroke="#050505" stroke-width="0.36">ABC (n=121)</text>
<text x="392.30" y="105.20" font-size="6.6" font-weight="bold" fill="#050505" stroke="#050505" stroke-width="0.36">p=.3163</text></g>
<g id="pD"><text x="4.0" y="155.8" font-size="11.6" font-weight="bold" fill="#0a0a0a" stroke="#0a0a0a" stroke-width="0.35">D</text>
<path d="M27.00 169.50V264.00H161.90" fill="none" stroke="#383838" stroke-width="1.05"/>
<text transform="translate(23.70 266.50) scale(0.9 1)" font-size="7" fill="#0e0e0e" stroke="#0e0e0e" stroke-width="0.42" text-anchor="end">0</text>
<text transform="translate(23.70 247.70) scale(0.9 1)" font-size="7" fill="#0e0e0e" stroke="#0e0e0e" stroke-width="0.42" text-anchor="end">20</text>
<text transform="translate(23.70 228.90) scale(0.9 1)" font-size="7" fill="#0e0e0e" stroke="#0e0e0e" stroke-width="0.42" text-anchor="end">40</text>
<text transform="translate(23.70 210.10) scale(0.9 1)" font-size="7" fill="#0e0e0e" stroke="#0e0e0e" stroke-width="0.42" text-anchor="end">60</text>
<text transform="translate(23.70 191.30) scale(0.9 1)" font-size="7" fill="#0e0e0e" stroke="#0e0e0e" stroke-width="0.42" text-anchor="end">80</text>
<text transform="translate(23.70 172.50) scale(0.9 1)" font-size="7" fill="#0e0e0e" stroke="#0e0e0e" stroke-width="0.42" text-anchor="end">100</text>
<text transform="translate(27.00 273.55) scale(0.9 1)" font-size="7" fill="#0e0e0e" stroke="#0e0e0e" stroke-width="0.42" text-anchor="middle">0</text>
<text transform="translate(41.93 273.55) scale(0.9 1)" font-size="7" fill="#0e0e0e" stroke="#0e0e0e" stroke-width="0.42" text-anchor="middle">20</text>
<text transform="translate(56.87 273.55) scale(0.9 1)" font-size="7" fill="#0e0e0e" stroke="#0e0e0e" stroke-width="0.42" text-anchor="middle">40</text>
<text transform="translate(71.80 273.55) scale(0.9 1)" font-size="7" fill="#0e0e0e" stroke="#0e0e0e" stroke-width="0.42" text-anchor="middle">60</text>
<text transform="translate(86.73 273.55) scale(0.9 1)" font-size="7" fill="#0e0e0e" stroke="#0e0e0e" stroke-width="0.42" text-anchor="middle">80</text>
<text transform="translate(101.67 273.55) scale(0.9 1)" font-size="7" fill="#0e0e0e" stroke="#0e0e0e" stroke-width="0.42" text-anchor="middle">100</text>
<text transform="translate(116.60 273.55) scale(0.9 1)" font-size="7" fill="#0e0e0e" stroke="#0e0e0e" stroke-width="0.42" text-anchor="middle">120</text>
<text transform="translate(131.53 273.55) scale(0.9 1)" font-size="7" fill="#0e0e0e" stroke="#0e0e0e" stroke-width="0.42" text-anchor="middle">140</text>
<text transform="translate(146.47 273.55) scale(0.9 1)" font-size="7" fill="#0e0e0e" stroke="#0e0e0e" stroke-width="0.42" text-anchor="middle">160</text>
<text transform="translate(161.40 273.55) scale(0.9 1)" font-size="7" fill="#0e0e0e" stroke="#0e0e0e" stroke-width="0.42" text-anchor="middle">180</text>
<path d="M24.40 264.00H27.00M24.40 245.20H27.00M24.40 226.40H27.00M24.40 207.60H27.00M24.40 188.80H27.00M24.40 170.00H27.00M27.00 264.00V266.40M41.93 264.00V266.40M56.87 264.00V266.40M71.80 264.00V266.40M86.73 264.00V266.40M101.67 264.00V266.40M116.60 264.00V266.40M131.53 264.00V266.40M146.47 264.00V266.40M161.40 264.00V266.40" fill="none" stroke="#383838" stroke-width="0.9"/>
<text transform="translate(94.40 283.25) scale(0.87 1)" font-size="7.9" fill="#0e0e0e" stroke="#0e0e0e" stroke-width="0.36" text-anchor="middle">Months</text>
<text transform="translate(9.40 217.00) rotate(-90) scale(0.92 1)" font-size="8.5" fill="#0e0e0e" stroke="#0e0e0e" stroke-width="0.36" text-anchor="middle">PFS (%)</text>
<path d="M27.70 169.80 L28.40 169.80 L28.40 171.50 L29.80 171.50 L29.80 173.20 L30.50 173.20 L30.95 173.20 L30.95 174.87 L31.85 174.87 L31.85 176.53 L32.75 176.53 L32.75 178.20 L33.20 178.20 L34.03 178.20 L34.03 180.40 L35.67 180.40 L35.67 182.60 L36.50 182.60 L37.08 182.60 L37.08 183.40 L38.22 183.40 L38.22 184.20 L38.80 184.20 L39.62 184.20 L39.62 184.47 L41.25 184.47 L41.25 184.73 L42.88 184.73 L42.88 185.00 L43.70 185.00 L44.53 185.00 L44.53 185.73 L46.20 185.73 L46.20 186.47 L47.87 186.47 L47.87 187.20 L48.70 187.20 L49.55 187.20 L49.55 187.87 L51.25 187.87 L51.25 188.53 L52.95 188.53 L52.95 189.20 L53.80 189.20 L54.58 189.20 L54.58 189.67 L56.15 189.67 L56.15 190.13 L57.72 190.13 L57.72 190.60 L58.50 190.60 L59.25 190.60 L59.25 190.70 L60.75 190.70 L60.75 190.80 L61.50 190.80 L62.28 190.80 L62.28 191.36 L63.84 191.36 L63.84 191.92 L65.40 191.92 L65.40 192.48 L66.96 192.48 L66.96 193.04 L68.52 193.04 L68.52 193.60 L69.30 193.60 L70.07 193.60 L70.07 193.98 L71.61 193.98 L71.61 194.36 L73.15 194.36 L73.15 194.74 L74.69 194.74 L74.69 195.12 L76.23 195.12 L76.23 195.50 L77.00 195.50 L77.78 195.50 L77.78 196.83 L79.35 196.83 L79.35 198.17 L80.92 198.17 L80.92 199.50 L81.70 199.50 L82.35 199.50 L82.35 201.00 L83.65 201.00 L83.65 202.50 L84.30 202.50 L85.08 202.50 L85.08 203.27 L86.65 203.27 L86.65 204.03 L88.22 204.03 L88.22 204.80 L89.00 204.80 L95.90 204.80 L96.01 204.80 L96.01 206.57 L96.24 206.57 L96.24 208.34 L96.47 208.34 L96.47 210.11 L96.70 210.11 L96.70 211.89 L96.93 211.89 L96.93 213.66 L97.16 213.66 L97.16 215.43 L97.39 215.43 L97.39 217.20 L97.50 217.20 L105.20 217.20 L105.33 217.20 L105.33 219.20 L105.60 219.20 L105.60 221.20 L105.87 221.20 L105.87 223.20 L106.00 223.20 L112.20 223.20 L112.27 223.20 L112.27 225.00 L112.40 225.00 L112.40 226.80 L112.53 226.80 L112.53 228.60 L112.67 228.60 L112.67 230.40 L112.80 230.40 L112.80 232.20 L112.93 232.20 L112.93 234.00 L113.00 234.00 L120.00 234.00" fill="none" stroke="#101010" stroke-width="1.30" stroke-linejoin="miter"/>
<path d="M27.70 169.80 L28.40 169.80 L28.40 171.50 L29.80 171.50 L29.80 173.20 L30.50 173.20 L30.95 173.20 L30.95 174.87 L31.85 174.87 L31.85 176.53 L32.75 176.53 L32.75 178.20 L33.20 178.20 L34.03 178.20 L34.03 180.40 L35.67 180.40 L35.67 182.60 L36.50 182.60 L37.08 182.60 L37.08 183.40 L38.22 183.40 L38.22 184.20 L38.80 184.20 L39.62 184.20 L39.62 184.47 L41.25 184.47 L41.25 184.73 L42.88 184.73 L42.88 185.00 L43.70 185.00 L44.53 185.00 L44.53 185.73 L46.20 185.73 L46.20 186.47 L47.87 186.47 L47.87 187.20 L48.70 187.20 L49.55 187.20 L49.55 187.87 L51.25 187.87 L51.25 188.53 L52.95 188.53 L52.95 189.20 L53.80 189.20 L54.58 189.20 L54.58 189.67 L56.15 189.67 L56.15 190.13 L57.72 190.13 L57.72 190.60 L58.50 190.60 L59.25 190.60 L59.25 190.70 L60.75 190.70 L60.75 190.80 L61.50 190.80 L62.28 190.80 L62.28 191.36 L63.84 191.36 L63.84 191.92 L65.40 191.92 L65.40 192.48 L66.96 192.48 L66.96 193.04 L68.52 193.04 L68.52 193.60 L69.30 193.60 L70.07 193.60 L70.07 193.98 L71.61 193.98 L71.61 194.36 L73.15 194.36 L73.15 194.74 L74.69 194.74 L74.69 195.12 L76.23 195.12 L76.23 195.50 L77.00 195.50 L77.78 195.50 L77.78 196.83 L79.35 196.83 L79.35 198.17 L80.92 198.17 L80.92 199.50 L81.70 199.50 L82.35 199.50 L82.35 201.00 L83.65 201.00 L83.65 202.50 L84.30 202.50 L85.08 202.50 L85.08 203.27 L86.65 203.27 L86.65 204.03 L88.22 204.03 L88.22 204.80 L89.00 204.80 L95.90 204.80" fill="none" stroke="#101010" stroke-width="1.70" stroke-linejoin="round" stroke-linecap="round"/>
<path d="M120.30 234.30V232.40M40.00 184.77V182.57M44.27 185.30V183.10M48.43 187.50V185.30M51.75 188.83V186.63M54.97 189.97V187.77M58.54 190.90V188.70M62.38 191.66V189.46M65.67 192.78V190.58M69.58 193.90V191.70M72.86 194.66V192.46M75.18 195.42V193.22M77.31 195.80V193.60M81.47 199.80V197.60M83.84 202.80V200.60M87.43 204.33V202.13M90.93 205.10V202.90M94.92 205.10V202.90" fill="none" stroke="#101010" stroke-width="0.8"/>
<rect x="119.40" y="232.30" width="1.5" height="1.9" fill="#101010"/>
<path d="M27.70 169.80 L28.52 169.80 L28.52 171.20 L30.18 171.20 L30.18 172.60 L31.00 172.60 L31.55 172.60 L31.55 174.60 L32.65 174.60 L32.65 176.60 L33.20 176.60 L33.85 176.60 L33.85 178.10 L35.15 178.10 L35.15 179.60 L35.80 179.60 L36.55 179.60 L36.55 180.70 L38.05 180.70 L38.05 181.80 L38.80 181.80 L39.62 181.80 L39.62 182.73 L41.25 182.73 L41.25 183.67 L42.88 183.67 L42.88 184.60 L43.70 184.60 L44.53 184.60 L44.53 185.27 L46.20 185.27 L46.20 185.93 L47.87 185.93 L47.87 186.60 L48.70 186.60 L49.55 186.60 L49.55 187.10 L51.25 187.10 L51.25 187.60 L52.95 187.60 L52.95 188.10 L53.80 188.10 L54.58 188.10 L54.58 188.47 L56.15 188.47 L56.15 188.83 L57.72 188.83 L57.72 189.20 L58.50 189.20 L59.32 189.20 L59.32 189.67 L60.95 189.67 L60.95 190.13 L62.58 190.13 L62.58 190.60 L63.40 190.60 L64.14 190.60 L64.14 190.95 L65.61 190.95 L65.61 191.30 L67.09 191.30 L67.09 191.65 L68.56 191.65 L68.56 192.00 L69.30 192.00 L70.08 192.00 L70.08 192.37 L71.65 192.37 L71.65 192.73 L73.22 192.73 L73.22 193.10 L74.00 193.10 L74.75 193.10 L74.75 193.60 L76.25 193.60 L76.25 194.10 L77.00 194.10 L77.78 194.10 L77.78 195.13 L79.35 195.13 L79.35 196.17 L80.92 196.17 L80.92 197.20 L81.70 197.20 L82.40 197.20 L82.40 198.20 L83.80 198.20 L83.80 199.20 L85.20 199.20 L85.20 200.20 L85.90 200.20 L86.67 200.20 L86.67 200.43 L88.20 200.43 L88.20 200.67 L89.73 200.67 L89.73 200.90 L90.50 200.90 L91.17 200.90 L91.17 201.10 L92.53 201.10 L92.53 201.30 L93.88 201.30 L93.88 201.50 L95.23 201.50 L95.23 201.70 L95.90 201.70 L96.30 201.70 L96.30 204.50 L96.70 204.50 L146.40 204.50" fill="none" stroke="#a0a0a0" stroke-width="0.85" stroke-linejoin="miter"/>
<path d="M27.70 169.80 L28.52 169.80 L28.52 171.20 L30.18 171.20 L30.18 172.60 L31.00 172.60 L31.55 172.60 L31.55 174.60 L32.65 174.60 L32.65 176.60 L33.20 176.60 L33.85 176.60 L33.85 178.10 L35.15 178.10 L35.15 179.60 L35.80 179.60 L36.55 179.60 L36.55 180.70 L38.05 180.70 L38.05 181.80 L38.80 181.80 L39.62 181.80 L39.62 182.73 L41.25 182.73 L41.25 183.67 L42.88 183.67 L42.88 184.60 L43.70 184.60 L44.53 184.60 L44.53 185.27 L46.20 185.27 L46.20 185.93 L47.87 185.93 L47.87 186.60 L48.70 186.60 L49.55 186.60 L49.55 187.10 L51.25 187.10 L51.25 187.60 L52.95 187.60 L52.95 188.10 L53.80 188.10 L54.58 188.10 L54.58 188.47 L56.15 188.47 L56.15 188.83 L57.72 188.83 L57.72 189.20 L58.50 189.20 L59.32 189.20 L59.32 189.67 L60.95 189.67 L60.95 190.13 L62.58 190.13 L62.58 190.60 L63.40 190.60 L64.14 190.60 L64.14 190.95 L65.61 190.95 L65.61 191.30 L67.09 191.30 L67.09 191.65 L68.56 191.65 L68.56 192.00 L69.30 192.00 L70.08 192.00 L70.08 192.37 L71.65 192.37 L71.65 192.73 L73.22 192.73 L73.22 193.10 L74.00 193.10 L74.75 193.10 L74.75 193.60 L76.25 193.60 L76.25 194.10 L77.00 194.10 L77.78 194.10 L77.78 195.13 L79.35 195.13 L79.35 196.17 L80.92 196.17 L80.92 197.20 L81.70 197.20 L82.40 197.20 L82.40 198.20 L83.80 198.20 L83.80 199.20 L85.20 199.20 L85.20 200.20 L85.90 200.20 L86.67 200.20 L86.67 200.43 L88.20 200.43 L88.20 200.67 L89.73 200.67 L89.73 200.90 L90.50 200.90 L91.17 200.90 L91.17 201.10 L92.53 201.10 L92.53 201.30 L93.88 201.30 L93.88 201.50 L95.23 201.50 L95.23 201.70 L95.90 201.70 L96.30 201.70 L96.30 204.50 L96.70 204.50" fill="none" stroke="#a0a0a0" stroke-width="1.45" stroke-linejoin="round" stroke-linecap="round"/>
<path d="M98.00 204.80V202.90M99.50 204.80V202.90M101.00 204.80V202.90M103.00 204.80V202.90M104.50 204.80V202.90M108.00 204.80V202.90M109.50 204.80V202.90M119.50 204.80V202.90M146.40 204.80V202.90M38.00 181.00V178.80M41.47 183.97V181.77M44.85 185.57V183.37M47.54 186.23V184.03M50.16 187.40V185.20M53.07 188.40V186.20M56.19 189.13V186.93M58.86 189.50V187.30M62.03 190.43V188.23M64.70 191.25V189.05M66.58 191.60V189.40M68.31 191.95V189.75M71.70 193.03V190.83M73.62 193.40V191.20M76.54 194.40V192.20M79.38 196.47V194.27M82.62 198.50V196.30M85.49 200.50V198.30M87.69 200.73V198.53M90.75 201.20V199.00M94.00 201.80V199.60" fill="none" stroke="#a0a0a0" stroke-width="0.8"/>
<text x="99.00" y="195.00" font-size="6.8" fill="#565656" stroke="#565656" stroke-width="0.5">GCB (n=188)</text>
<text x="99.50" y="247.80" font-size="6.6" font-weight="bold" fill="#050505" stroke="#050505" stroke-width="0.36">ABC (n=121)</text>
<text x="38.40" y="253.20" font-size="6.6" font-weight="bold" fill="#050505" stroke="#050505" stroke-width="0.36">p=.4291</text></g>
<g id="pE"><text x="180.7" y="156.2" font-size="11.6" font-weight="bold" fill="#0a0a0a" stroke="#0a0a0a" stroke-width="0.35">E</text>
<text x="265.1" y="161.8" font-size="7.5" font-weight="bold" fill="#0a0a0a" stroke="#0a0a0a" stroke-width="0.3" text-anchor="middle">MYC+BCL2+ only</text>
<path d="M203.80 168.80V263.30H338.50" fill="none" stroke="#383838" stroke-width="1.05"/>
<text transform="translate(200.50 265.80) scale(0.9 1)" font-size="7" fill="#0e0e0e" stroke="#0e0e0e" stroke-width="0.42" text-anchor="end">0</text>
<text transform="translate(200.50 247.00) scale(0.9 1)" font-size="7" fill="#0e0e0e" stroke="#0e0e0e" stroke-width="0.42" text-anchor="end">20</text>
<text transform="translate(200.50 228.20) scale(0.9 1)" font-size="7" fill="#0e0e0e" stroke="#0e0e0e" stroke-width="0.42" text-anchor="end">40</text>
<text transform="translate(200.50 209.40) scale(0.9 1)" font-size="7" fill="#0e0e0e" stroke="#0e0e0e" stroke-width="0.42" text-anchor="end">60</text>
<text transform="translate(200.50 190.60) scale(0.9 1)" font-size="7" fill="#0e0e0e" stroke="#0e0e0e" stroke-width="0.42" text-anchor="end">80</text>
<text transform="translate(200.50 171.80) scale(0.9 1)" font-size="7" fill="#0e0e0e" stroke="#0e0e0e" stroke-width="0.42" text-anchor="end">100</text>
<text transform="translate(203.80 272.85) scale(0.9 1)" font-size="7" fill="#0e0e0e" stroke="#0e0e0e" stroke-width="0.42" text-anchor="middle">0</text>
<text transform="translate(218.71 272.85) scale(0.9 1)" font-size="7" fill="#0e0e0e" stroke="#0e0e0e" stroke-width="0.42" text-anchor="middle">20</text>
<text transform="translate(233.62 272.85) scale(0.9 1)" font-size="7" fill="#0e0e0e" stroke="#0e0e0e" stroke-width="0.42" text-anchor="middle">40</text>
<text transform="translate(248.53 272.85) scale(0.9 1)" font-size="7" fill="#0e0e0e" stroke="#0e0e0e" stroke-width="0.42" text-anchor="middle">60</text>
<text transform="translate(263.44 272.85) scale(0.9 1)" font-size="7" fill="#0e0e0e" stroke="#0e0e0e" stroke-width="0.42" text-anchor="middle">80</text>
<text transform="translate(278.36 272.85) scale(0.9 1)" font-size="7" fill="#0e0e0e" stroke="#0e0e0e" stroke-width="0.42" text-anchor="middle">100</text>
<text transform="translate(293.27 272.85) scale(0.9 1)" font-size="7" fill="#0e0e0e" stroke="#0e0e0e" stroke-width="0.42" text-anchor="middle">120</text>
<text transform="translate(308.18 272.85) scale(0.9 1)" font-size="7" fill="#0e0e0e" stroke="#0e0e0e" stroke-width="0.42" text-anchor="middle">140</text>
<text transform="translate(323.09 272.85) scale(0.9 1)" font-size="7" fill="#0e0e0e" stroke="#0e0e0e" stroke-width="0.42" text-anchor="middle">160</text>
<text transform="translate(338.00 272.85) scale(0.9 1)" font-size="7" fill="#0e0e0e" stroke="#0e0e0e" stroke-width="0.42" text-anchor="middle">180</text>
<path d="M201.20 263.30H203.80M201.20 244.50H203.80M201.20 225.70H203.80M201.20 206.90H203.80M201.20 188.10H203.80M201.20 169.30H203.80M203.80 263.30V265.70M218.71 263.30V265.70M233.62 263.30V265.70M248.53 263.30V265.70M263.44 263.30V265.70M278.36 263.30V265.70M293.27 263.30V265.70M308.18 263.30V265.70M323.09 263.30V265.70M338.00 263.30V265.70" fill="none" stroke="#383838" stroke-width="0.9"/>
<text transform="translate(271.10 282.55) scale(0.87 1)" font-size="7.9" fill="#0e0e0e" stroke="#0e0e0e" stroke-width="0.36" text-anchor="middle">Months</text>
<text transform="translate(185.90 216.30) rotate(-90) scale(0.92 1)" font-size="8.4" fill="#0e0e0e" stroke="#0e0e0e" stroke-width="0.36" text-anchor="middle">OS (%)</text>
<path d="M205.10 169.00 L205.62 169.00 L205.62 171.17 L206.65 171.17 L206.65 173.33 L207.68 173.33 L207.68 175.50 L208.20 175.50 L208.49 175.50 L208.49 177.45 L209.06 177.45 L209.06 179.40 L209.64 179.40 L209.64 181.35 L210.21 181.35 L210.21 183.30 L210.50 183.30 L210.69 183.30 L210.69 185.10 L211.07 185.10 L211.07 186.90 L211.46 186.90 L211.46 188.70 L211.84 188.70 L211.84 190.50 L212.23 190.50 L212.23 192.30 L212.61 192.30 L212.61 194.10 L212.80 194.10 L213.07 194.10 L213.07 196.17 L213.60 196.17 L213.60 198.23 L214.13 198.23 L214.13 200.30 L214.40 200.30 L214.85 200.30 L214.85 202.40 L215.75 202.40 L215.75 204.50 L216.65 204.50 L216.65 206.60 L217.10 206.60 L217.73 206.60 L217.73 208.67 L219.00 208.67 L219.00 210.73 L220.27 210.73 L220.27 212.80 L220.90 212.80 L221.50 212.80 L221.50 214.75 L222.70 214.75 L222.70 216.70 L223.30 216.70 L223.98 216.70 L223.98 217.27 L225.32 217.27 L225.32 217.85 L226.68 217.85 L226.68 218.43 L228.02 218.43 L228.02 219.00 L228.70 219.00 L228.95 219.00 L228.95 220.57 L229.45 220.57 L229.45 222.13 L229.95 222.13 L229.95 223.70 L230.20 223.70 L230.90 223.70 L230.90 223.86 L232.30 223.86 L232.30 224.02 L233.70 224.02 L233.70 224.18 L235.10 224.18 L235.10 224.34 L236.50 224.34 L236.50 224.50 L237.20 224.50 L237.47 224.50 L237.47 226.33 L238.00 226.33 L238.00 228.17 L238.53 228.17 L238.53 230.00 L238.80 230.00 L239.57 230.00 L239.57 230.47 L241.10 230.47 L241.10 230.93 L242.63 230.93 L242.63 231.40 L243.40 231.40 L243.60 231.40 L243.60 233.20 L244.00 233.20 L244.00 235.00 L244.40 235.00 L244.40 236.80 L244.80 236.80 L244.80 238.60 L245.00 238.60 L266.00 238.60" fill="none" stroke="#a0a0a0" stroke-width="1.15" stroke-linejoin="miter"/>
<path d="M266.00 238.90V237.00" fill="none" stroke="#a0a0a0" stroke-width="0.8"/>
<path d="M205.10 169.00 L205.48 169.00 L205.48 170.90 L206.25 170.90 L206.25 172.80 L207.02 172.80 L207.02 174.70 L207.40 174.70 L207.92 174.70 L207.92 176.53 L208.95 176.53 L208.95 178.37 L209.98 178.37 L209.98 180.20 L210.50 180.20 L211.07 180.20 L211.07 180.95 L212.23 180.95 L212.23 181.70 L212.80 181.70 L213.00 181.70 L213.00 183.45 L213.40 183.45 L213.40 185.20 L213.80 185.20 L213.80 186.95 L214.20 186.95 L214.20 188.70 L214.40 188.70 L214.78 188.70 L214.78 190.50 L215.55 190.50 L215.55 192.30 L216.32 192.30 L216.32 194.10 L216.70 194.10 L216.97 194.10 L216.97 196.17 L217.50 196.17 L217.50 198.23 L218.03 198.23 L218.03 200.30 L218.30 200.30 L218.73 200.30 L218.73 202.28 L219.57 202.28 L219.57 204.25 L220.43 204.25 L220.43 206.22 L221.27 206.22 L221.27 208.20 L221.70 208.20 L222.48 208.20 L222.48 210.00 L224.05 210.00 L224.05 211.80 L225.62 211.80 L225.62 213.60 L226.40 213.60 L227.18 213.60 L227.18 214.38 L228.72 214.38 L228.72 215.15 L230.28 215.15 L230.28 215.92 L231.82 215.92 L231.82 216.70 L232.60 216.70 L233.23 216.70 L233.23 216.97 L234.50 216.97 L234.50 217.23 L235.77 217.23 L235.77 217.50 L236.40 217.50 L236.80 217.50 L236.80 219.80 L237.60 219.80 L237.60 222.10 L238.00 222.10 L238.78 222.10 L238.78 223.80 L240.32 223.80 L240.32 225.50 L241.10 225.50 L241.45 225.50 L241.45 227.30 L242.15 227.30 L242.15 229.10 L242.85 229.10 L242.85 230.90 L243.20 230.90 L243.88 230.90 L243.88 231.07 L245.22 231.07 L245.22 231.25 L246.57 231.25 L246.57 231.43 L247.92 231.43 L247.92 231.60 L248.60 231.60 L249.25 231.60 L249.25 231.87 L250.55 231.87 L250.55 232.13 L251.85 232.13 L251.85 232.40 L252.50 232.40 L252.70 232.40 L252.70 234.35 L253.10 234.35 L253.10 236.30 L253.30 236.30 L254.07 236.30 L254.07 236.43 L255.60 236.43 L255.60 236.57 L257.13 236.57 L257.13 236.70 L257.90 236.70 L258.10 236.70 L258.10 238.45 L258.50 238.45 L258.50 240.20 L258.70 240.20 L259.45 240.20 L259.45 240.22 L260.95 240.22 L260.95 240.25 L262.45 240.25 L262.45 240.28 L263.95 240.28 L263.95 240.30 L264.70 240.30 L265.10 240.30 L265.10 242.30 L265.90 242.30 L265.90 244.30 L266.30 244.30 L266.88 244.30 L266.88 245.40 L268.03 245.40 L268.03 246.50 L268.60 246.50 L268.75 246.50 L268.75 248.65 L269.05 248.65 L269.05 250.80 L269.20 250.80 L272.00 250.80" fill="none" stroke="#101010" stroke-width="1.30" stroke-linejoin="miter"/>
<path d="M205.10 169.00 L205.48 169.00 L205.48 170.90 L206.25 170.90 L206.25 172.80 L207.02 172.80 L207.02 174.70 L207.40 174.70 L207.92 174.70 L207.92 176.53 L208.95 176.53 L208.95 178.37 L209.98 178.37 L209.98 180.20 L210.50 180.20 L211.07 180.20 L211.07 180.95 L212.23 180.95 L212.23 181.70 L212.80 181.70 L213.00 181.70 L213.00 183.45 L213.40 183.45 L213.40 185.20 L213.80 185.20 L213.80 186.95 L214.20 186.95 L214.20 188.70 L214.40 188.70 L214.78 188.70 L214.78 190.50 L215.55 190.50 L215.55 192.30 L216.32 192.30 L216.32 194.10 L216.70 194.10 L216.97 194.10 L216.97 196.17 L217.50 196.17 L217.50 198.23 L218.03 198.23 L218.03 200.30 L218.30 200.30 L218.73 200.30 L218.73 202.28 L219.57 202.28 L219.57 204.25 L220.43 204.25 L220.43 206.22 L221.27 206.22 L221.27 208.20 L221.70 208.20 L222.48 208.20 L222.48 210.00 L224.05 210.00 L224.05 211.80 L225.62 211.80 L225.62 213.60 L226.40 213.60 L227.18 213.60 L227.18 214.38 L228.72 214.38 L228.72 215.15 L230.28 215.15 L230.28 215.92 L231.82 215.92 L231.82 216.70 L232.60 216.70 L233.23 216.70 L233.23 216.97 L234.50 216.97 L234.50 217.23 L235.77 217.23 L235.77 217.50 L236.40 217.50 L236.80 217.50 L236.80 219.80 L237.60 219.80 L237.60 222.10 L238.00 222.10 L238.78 222.10 L238.78 223.80 L240.32 223.80 L240.32 225.50 L241.10 225.50 L241.45 225.50 L241.45 227.30 L242.15 227.30 L242.15 229.10 L242.85 229.10 L242.85 230.90 L243.20 230.90 L243.88 230.90 L243.88 231.07 L245.22 231.07 L245.22 231.25 L246.57 231.25 L246.57 231.43 L247.92 231.43 L247.92 231.60 L248.60 231.60 L249.25 231.60 L249.25 231.87 L250.55 231.87 L250.55 232.13 L251.85 232.13 L251.85 232.40 L252.50 232.40 L252.70 232.40 L252.70 234.35" fill="none" stroke="#101010" stroke-width="1.55" stroke-linejoin="round" stroke-linecap="round"/>
<path d="M269.60 251.10V249.20M272.00 251.10V249.20M222.00 208.50V206.30M224.66 212.10V209.90M228.23 214.68V212.47M230.90 216.22V214.02M235.76 217.53V215.33M238.79 224.10V221.90M242.06 227.60V225.40M245.11 231.38V229.17M249.99 232.17V229.97M252.38 232.70V230.50M256.82 236.87V234.67M261.29 240.55V238.35" fill="none" stroke="#101010" stroke-width="0.8"/>
<rect x="271.40" y="249.10" width="1.5" height="1.9" fill="#101010"/>
<path d="M272.10 199.10H279.80" fill="none" stroke="#a6a6a6" stroke-width="0.90"/>
<path d="M275.05 199.10L275.95 197.00L276.85 199.10Z" fill="#a6a6a6" stroke="#a6a6a6" stroke-width="0.3"/>
<path d="M272.10 208.60H279.80" fill="none" stroke="#101010" stroke-width="1.20"/>
<path d="M275.05 208.60L275.95 206.50L276.85 208.60Z" fill="#101010" stroke="#101010" stroke-width="0.3"/>
<text x="284.50" y="200.90" font-size="6.8" fill="#565656" stroke="#565656" stroke-width="0.5">GCB (n=53)</text>
<text x="284.50" y="210.00" font-size="6.6" font-weight="bold" fill="#050505" stroke="#050505" stroke-width="0.36">ABC (n=104)</text>
<text x="215.30" y="252.50" font-size="6.6" font-weight="bold" fill="#050505" stroke="#050505" stroke-width="0.36">p=.4114</text></g>
<g id="pF"><text x="359.8" y="156.1" font-size="11.6" font-weight="bold" fill="#0a0a0a" stroke="#0a0a0a" stroke-width="0.35">F</text>
<path d="M381.10 169.50V264.00H516.10" fill="none" stroke="#383838" stroke-width="1.05"/>
<text transform="translate(377.80 266.50) scale(0.9 1)" font-size="7" fill="#0e0e0e" stroke="#0e0e0e" stroke-width="0.42" text-anchor="end">0</text>
<text transform="translate(377.80 247.70) scale(0.9 1)" font-size="7" fill="#0e0e0e" stroke="#0e0e0e" stroke-width="0.42" text-anchor="end">20</text>
<text transform="translate(377.80 228.90) scale(0.9 1)" font-size="7" fill="#0e0e0e" stroke="#0e0e0e" stroke-width="0.42" text-anchor="end">40</text>
<text transform="translate(377.80 210.10) scale(0.9 1)" font-size="7" fill="#0e0e0e" stroke="#0e0e0e" stroke-width="0.42" text-anchor="end">60</text>
<text transform="translate(377.80 191.30) scale(0.9 1)" font-size="7" fill="#0e0e0e" stroke="#0e0e0e" stroke-width="0.42" text-anchor="end">80</text>
<text transform="translate(377.80 172.50) scale(0.9 1)" font-size="7" fill="#0e0e0e" stroke="#0e0e0e" stroke-width="0.42" text-anchor="end">100</text>
<text transform="translate(381.10 273.55) scale(0.9 1)" font-size="7" fill="#0e0e0e" stroke="#0e0e0e" stroke-width="0.42" text-anchor="middle">0</text>
<text transform="translate(396.04 273.55) scale(0.9 1)" font-size="7" fill="#0e0e0e" stroke="#0e0e0e" stroke-width="0.42" text-anchor="middle">20</text>
<text transform="translate(410.99 273.55) scale(0.9 1)" font-size="7" fill="#0e0e0e" stroke="#0e0e0e" stroke-width="0.42" text-anchor="middle">40</text>
<text transform="translate(425.93 273.55) scale(0.9 1)" font-size="7" fill="#0e0e0e" stroke="#0e0e0e" stroke-width="0.42" text-anchor="middle">60</text>
<text transform="translate(440.88 273.55) scale(0.9 1)" font-size="7" fill="#0e0e0e" stroke="#0e0e0e" stroke-width="0.42" text-anchor="middle">80</text>
<text transform="translate(455.82 273.55) scale(0.9 1)" font-size="7" fill="#0e0e0e" stroke="#0e0e0e" stroke-width="0.42" text-anchor="middle">100</text>
<text transform="translate(470.77 273.55) scale(0.9 1)" font-size="7" fill="#0e0e0e" stroke="#0e0e0e" stroke-width="0.42" text-anchor="middle">120</text>
<text transform="translate(485.71 273.55) scale(0.9 1)" font-size="7" fill="#0e0e0e" stroke="#0e0e0e" stroke-width="0.42" text-anchor="middle">140</text>
<text transform="translate(500.66 273.55) scale(0.9 1)" font-size="7" fill="#0e0e0e" stroke="#0e0e0e" stroke-width="0.42" text-anchor="middle">160</text>
<text transform="translate(515.60 273.55) scale(0.9 1)" font-size="7" fill="#0e0e0e" stroke="#0e0e0e" stroke-width="0.42" text-anchor="middle">180</text>
<path d="M378.50 264.00H381.10M378.50 245.20H381.10M378.50 226.40H381.10M378.50 207.60H381.10M378.50 188.80H381.10M378.50 170.00H381.10M381.10 264.00V266.40M396.04 264.00V266.40M410.99 264.00V266.40M425.93 264.00V266.40M440.88 264.00V266.40M455.82 264.00V266.40M470.77 264.00V266.40M485.71 264.00V266.40M500.66 264.00V266.40M515.60 264.00V266.40" fill="none" stroke="#383838" stroke-width="0.9"/>
<text transform="translate(448.55 283.25) scale(0.87 1)" font-size="7.9" fill="#0e0e0e" stroke="#0e0e0e" stroke-width="0.36" text-anchor="middle">Months</text>
<text transform="translate(363.00 217.00) rotate(-90) scale(0.92 1)" font-size="8.5" fill="#0e0e0e" stroke="#0e0e0e" stroke-width="0.36" text-anchor="middle">PFS (%)</text>
<path d="M381.60 170.30 L381.94 170.30 L381.94 172.38 L382.61 172.38 L382.61 174.45 L383.29 174.45 L383.29 176.53 L383.96 176.53 L383.96 178.60 L384.30 178.60 L384.59 178.60 L384.59 180.55 L385.16 180.55 L385.16 182.50 L385.74 182.50 L385.74 184.45 L386.31 184.45 L386.31 186.40 L386.60 186.40 L386.85 186.40 L386.85 188.30 L387.35 188.30 L387.35 190.20 L387.85 190.20 L387.85 192.10 L388.35 192.10 L388.35 194.00 L388.60 194.00 L388.88 194.00 L388.88 196.05 L389.43 196.05 L389.43 198.10 L389.70 198.10 L390.00 198.10 L390.00 200.05 L390.60 200.05 L390.60 202.00 L391.20 202.00 L391.20 203.95 L391.80 203.95 L391.80 205.90 L392.10 205.90 L392.68 205.90 L392.68 207.62 L393.82 207.62 L393.82 209.35 L394.98 209.35 L394.98 211.08 L396.12 211.08 L396.12 212.80 L396.70 212.80 L397.22 212.80 L397.22 214.63 L398.25 214.63 L398.25 216.47 L399.28 216.47 L399.28 218.30 L399.80 218.30 L400.58 218.30 L400.58 219.07 L402.15 219.07 L402.15 219.83 L403.72 219.83 L403.72 220.60 L404.50 220.60 L404.88 220.60 L404.88 222.15 L405.62 222.15 L405.62 223.70 L406.00 223.70 L406.57 223.70 L406.57 225.25 L407.73 225.25 L407.73 226.80 L408.30 226.80 L408.95 226.80 L408.95 227.07 L410.25 227.07 L410.25 227.33 L411.55 227.33 L411.55 227.60 L412.20 227.60 L413.00 227.60 L413.00 229.90 L413.80 229.90 L417.60 229.90 L418.12 229.90 L418.12 231.95 L419.18 231.95 L419.18 234.00 L419.70 234.00 L420.10 234.00 L420.10 235.80 L420.90 235.80 L420.90 237.60 L421.70 237.60 L421.70 239.40 L422.10 239.40 L443.00 239.40" fill="none" stroke="#a0a0a0" stroke-width="1.15" stroke-linejoin="miter"/>
<path d="M443.00 239.70V237.80" fill="none" stroke="#a0a0a0" stroke-width="0.8"/>
<path d="M381.60 170.30 L381.99 170.30 L381.99 172.38 L382.76 172.38 L382.76 174.45 L383.54 174.45 L383.54 176.53 L384.31 176.53 L384.31 178.60 L384.70 178.60 L385.00 178.60 L385.00 180.55 L385.60 180.55 L385.60 182.50 L386.20 182.50 L386.20 184.45 L386.80 184.45 L386.80 186.40 L387.10 186.40 L387.39 186.40 L387.39 188.12 L387.96 188.12 L387.96 189.85 L388.54 189.85 L388.54 191.58 L389.11 191.58 L389.11 193.30 L389.40 193.30 L389.65 193.30 L389.65 195.13 L390.15 195.13 L390.15 196.97 L390.65 196.97 L390.65 198.80 L390.90 198.80 L391.50 198.80 L391.50 199.15 L392.70 199.15 L392.70 199.50 L393.30 199.50 L393.64 199.50 L393.64 201.24 L394.32 201.24 L394.32 202.98 L395.00 202.98 L395.00 204.72 L395.68 204.72 L395.68 206.46 L396.36 206.46 L396.36 208.20 L396.70 208.20 L397.48 208.20 L397.48 210.00 L399.05 210.00 L399.05 211.80 L400.62 211.80 L400.62 213.60 L401.40 213.60 L402.17 213.60 L402.17 214.78 L403.73 214.78 L403.73 215.95 L405.27 215.95 L405.27 217.12 L406.83 217.12 L406.83 218.30 L407.60 218.30 L408.28 218.30 L408.28 219.08 L409.62 219.08 L409.62 219.85 L410.98 219.85 L410.98 220.62 L412.32 220.62 L412.32 221.40 L413.00 221.40 L413.25 221.40 L413.25 223.20 L413.75 223.20 L413.75 225.00 L414.25 225.00 L414.25 226.80 L414.50 226.80 L415.19 226.80 L415.19 227.78 L416.56 227.78 L416.56 228.75 L417.94 228.75 L417.94 229.72 L419.31 229.72 L419.31 230.70 L420.00 230.70 L420.38 230.70 L420.38 232.25 L421.12 232.25 L421.12 233.80 L421.50 233.80 L422.28 233.80 L422.28 234.26 L423.84 234.26 L423.84 234.72 L425.40 234.72 L425.40 235.18 L426.96 235.18 L426.96 235.64 L428.52 235.64 L428.52 236.10 L429.30 236.10 L429.62 236.10 L429.62 237.75 L430.28 237.75 L430.28 239.40 L430.60 239.40 L431.37 239.40 L431.37 239.67 L432.90 239.67 L432.90 239.93 L434.43 239.93 L434.43 240.20 L435.20 240.20 L435.40 240.20 L435.40 242.10 L435.80 242.10 L435.80 244.00 L436.00 244.00 L442.20 244.00 L442.33 244.00 L442.33 245.57 L442.60 245.57 L442.60 247.13 L442.87 247.13 L442.87 248.70 L443.00 248.70 L443.57 248.70 L443.57 249.10 L444.73 249.10 L444.73 249.50 L445.30 249.50 L445.50 249.50 L445.50 251.40 L445.90 251.40 L445.90 253.30 L446.10 253.30 L449.20 253.30" fill="none" stroke="#101010" stroke-width="1.30" stroke-linejoin="miter"/>
<path d="M381.60 170.30 L381.99 170.30 L381.99 172.38 L382.76 172.38 L382.76 174.45 L383.54 174.45 L383.54 176.53 L384.31 176.53 L384.31 178.60 L384.70 178.60 L385.00 178.60 L385.00 180.55 L385.60 180.55 L385.60 182.50 L386.20 182.50 L386.20 184.45 L386.80 184.45 L386.80 186.40 L387.10 186.40 L387.39 186.40 L387.39 188.12 L387.96 188.12 L387.96 189.85 L388.54 189.85 L388.54 191.58 L389.11 191.58 L389.11 193.30 L389.40 193.30 L389.65 193.30 L389.65 195.13 L390.15 195.13 L390.15 196.97 L390.65 196.97 L390.65 198.80 L390.90 198.80 L391.50 198.80 L391.50 199.15 L392.70 199.15 L392.70 199.50 L393.30 199.50 L393.64 199.50 L393.64 201.24 L394.32 201.24 L394.32 202.98 L395.00 202.98 L395.00 204.72 L395.68 204.72 L395.68 206.46 L396.36 206.46 L396.36 208.20 L396.70 208.20 L397.48 208.20 L397.48 210.00 L399.05 210.00 L399.05 211.80 L400.62 211.80 L400.62 213.60 L401.40 213.60 L402.17 213.60 L402.17 214.78 L403.73 214.78 L403.73 215.95 L405.27 215.95 L405.27 217.12 L406.83 217.12 L406.83 218.30 L407.60 218.30 L408.28 218.30 L408.28 219.08 L409.62 219.08 L409.62 219.85 L410.98 219.85 L410.98 220.62 L412.32 220.62 L412.32 221.40 L413.00 221.40 L413.25 221.40 L413.25 223.20 L413.75 223.20 L413.75 225.00 L414.25 225.00 L414.25 226.80 L414.50 226.80 L415.19 226.80 L415.19 227.78 L416.56 227.78 L416.56 228.75 L417.94 228.75 L417.94 229.72 L419.31 229.72 L419.31 230.70 L420.00 230.70 L420.38 230.70 L420.38 232.25 L421.12 232.25 L421.12 233.80 L421.50 233.80 L422.28 233.80 L422.28 234.26 L423.84 234.26 L423.84 234.72 L425.40 234.72 L425.40 235.18 L426.96 235.18 L426.96 235.64 L428.52 235.64 L428.52 236.10 L429.30 236.10 L429.62 236.10 L429.62 237.75" fill="none" stroke="#101010" stroke-width="1.40" stroke-linejoin="round" stroke-linecap="round"/>
<path d="M446.60 253.60V251.70M449.20 253.60V251.70M398.00 210.30V208.10M402.74 215.08V212.88M406.87 218.60V216.40M411.83 220.93V218.72M414.86 227.10V224.90M417.76 229.05V226.85M421.38 234.10V231.90M425.31 235.02V232.82M428.45 235.94V233.74M432.04 239.97V237.77M436.11 244.30V242.10" fill="none" stroke="#101010" stroke-width="0.8"/>
<rect x="448.60" y="251.60" width="1.5" height="1.9" fill="#101010"/>
<path d="M448.60 200.10H456.30" fill="none" stroke="#a6a6a6" stroke-width="0.90"/>
<path d="M451.55 200.10L452.45 198.00L453.35 200.10Z" fill="#a6a6a6" stroke="#a6a6a6" stroke-width="0.3"/>
<path d="M448.60 209.60H456.30" fill="none" stroke="#101010" stroke-width="1.20"/>
<path d="M451.55 209.60L452.45 207.50L453.35 209.60Z" fill="#101010" stroke="#101010" stroke-width="0.3"/>
<text x="461.90" y="201.90" font-size="6.8" fill="#565656" stroke="#565656" stroke-width="0.5">GCB (n=53)</text>
<text x="461.90" y="211.00" font-size="6.6" font-weight="bold" fill="#050505" stroke="#050505" stroke-width="0.36">ABC (n=104)</text>
<text x="392.30" y="253.20" font-size="6.6" font-weight="bold" fill="#050505" stroke="#050505" stroke-width="0.36">p=.7020</text></g>
</g></svg></body></html>
